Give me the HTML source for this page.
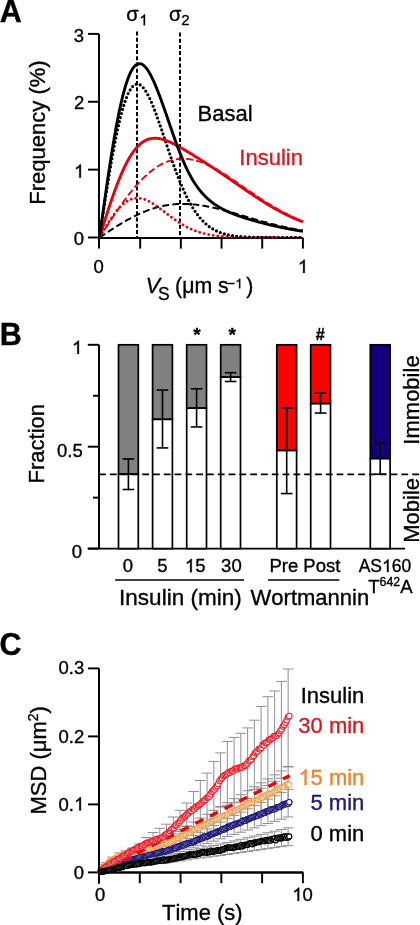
<!DOCTYPE html>
<html><head><meta charset="utf-8"><style>
html,body{margin:0;padding:0;background:#fff;}
svg{display:block;will-change:transform;}
text{font-family:"Liberation Sans",sans-serif;font-kerning:none;}
</style></head><body>
<svg width="420" height="925" viewBox="0 0 420 925" font-family="Liberation Sans, sans-serif">
<text x="-0.36" y="22.30" font-size="30.5" fill="#000" stroke="#000" stroke-width="0.35" text-anchor="start" font-weight="bold" >A</text>
<line x1="99.00" y1="33.90" x2="99.00" y2="248.60" stroke="#000" stroke-width="1.95" />
<line x1="99.00" y1="238.00" x2="303.20" y2="238.00" stroke="#000" stroke-width="1.95" />
<line x1="88.00" y1="237.50" x2="99.00" y2="237.50" stroke="#000" stroke-width="1.95" />
<line x1="88.00" y1="169.63" x2="99.00" y2="169.63" stroke="#000" stroke-width="1.95" />
<line x1="88.00" y1="101.77" x2="99.00" y2="101.77" stroke="#000" stroke-width="1.95" />
<line x1="88.00" y1="33.90" x2="99.00" y2="33.90" stroke="#000" stroke-width="1.95" />
<line x1="140.18" y1="238.00" x2="140.18" y2="248.60" stroke="#000" stroke-width="1.95" />
<line x1="180.86" y1="238.00" x2="180.86" y2="248.60" stroke="#000" stroke-width="1.95" />
<line x1="221.54" y1="238.00" x2="221.54" y2="248.60" stroke="#000" stroke-width="1.95" />
<line x1="262.22" y1="238.00" x2="262.22" y2="248.60" stroke="#000" stroke-width="1.95" />
<line x1="302.90" y1="238.00" x2="302.90" y2="248.60" stroke="#000" stroke-width="1.95" />
<text x="73.73" y="245.10" font-size="18.5" fill="#000" stroke="#000" stroke-width="0.35" text-anchor="start" >0</text>
<text x="73.94" y="109.37" font-size="18.5" fill="#000" stroke="#000" stroke-width="0.35" text-anchor="start" >2</text>
<text x="73.82" y="41.50" font-size="18.5" fill="#000" stroke="#000" stroke-width="0.35" text-anchor="start" >3</text>
<path d="M763 0L583 0L583 1145C540 1104 483 1063 413 1022C343 981 280 950 225 930L225 1104C323 1150 409 1206 483 1272C557 1338 609 1402 640 1466L763 1466Z" transform="translate(74.01,177.63) scale(0.00903,-0.00903)" fill="#000" stroke="#000" stroke-width="38.7"/>
<text x="74.01" y="177.63" font-size="18.5" fill="#000" stroke="#000" stroke-width="0.35" text-anchor="start" > </text>
<text x="93.48" y="272.90" font-size="18.5" fill="#000" stroke="#000" stroke-width="0.35" text-anchor="start" >0</text>
<path d="M763 0L583 0L583 1145C540 1104 483 1063 413 1022C343 981 280 950 225 930L225 1104C323 1150 409 1206 483 1272C557 1338 609 1402 640 1466L763 1466Z" transform="translate(297.87,272.90) scale(0.00903,-0.00903)" fill="#000" stroke="#000" stroke-width="38.7"/>
<text x="297.87" y="272.90" font-size="18.5" fill="#000" stroke="#000" stroke-width="0.35" text-anchor="start" > </text>
<line x1="137.00" y1="31.50" x2="137.00" y2="238.00" stroke="#000" stroke-width="2.0" stroke-dasharray="4 2.2"/>
<line x1="180.00" y1="32.50" x2="180.00" y2="238.00" stroke="#000" stroke-width="2.0" stroke-dasharray="4 2.2"/>
<text x="126.2" y="21" font-size="20" stroke="#000" stroke-width="0.35" font-family="Liberation Sans, sans-serif">σ</text>
<path d="M763 0L583 0L583 1145C540 1104 483 1063 413 1022C343 981 280 950 225 930L225 1104C323 1150 409 1206 483 1272C557 1338 609 1402 640 1466L763 1466Z" transform="translate(139.34,25.30) scale(0.00742,-0.00742)" fill="#000" stroke="#000" stroke-width="47.2"/>
<text x="168.9" y="21" font-size="20" stroke="#000" stroke-width="0.35" font-family="Liberation Sans, sans-serif">σ<tspan font-size="15" dy="4.3">2</tspan></text>
<polyline points="99.50,237.50 100.35,236.94 101.19,236.37 102.04,235.81 102.89,235.25 103.74,234.69 104.58,234.13 105.43,233.57 106.28,233.01 107.13,232.46 107.97,231.90 108.82,231.35 109.67,230.80 110.52,230.25 111.36,229.70 112.21,229.15 113.06,228.61 113.91,228.07 114.75,227.54 115.60,227.00 116.45,226.47 117.30,225.95 118.14,225.42 118.99,224.90 119.84,224.39 120.69,223.87 121.53,223.37 122.38,222.86 123.23,222.36 124.08,221.87 124.92,221.38 125.77,220.90 126.62,220.42 127.47,219.94 128.31,219.47 129.16,219.01 130.01,218.55 130.86,218.10 131.70,217.65 132.55,217.21 133.40,216.77 134.25,216.34 135.09,215.92 135.94,215.50 136.79,215.09 137.64,214.69 138.49,214.29 139.33,213.90 140.18,213.51 141.03,213.14 141.88,212.76 142.72,212.40 143.57,212.04 144.42,211.70 145.26,211.35 146.11,211.02 146.96,210.69 147.81,210.37 148.66,210.06 149.50,209.75 150.35,209.46 151.20,209.17 152.05,208.88 152.89,208.61 153.74,208.34 154.59,208.08 155.44,207.83 156.28,207.59 157.13,207.35 157.98,207.13 158.82,206.91 159.67,206.70 160.52,206.49 161.37,206.29 162.22,206.11 163.06,205.93 163.91,205.75 164.76,205.59 165.60,205.43 166.45,205.28 167.30,205.14 168.15,205.01 169.00,204.88 169.84,204.77 170.69,204.66 171.54,204.55 172.38,204.46 173.23,204.37 174.08,204.29 174.93,204.22 175.77,204.16 176.62,204.10 177.47,204.05 178.32,204.01 179.16,203.97 180.01,203.95 180.86,203.93 181.71,203.91 182.56,203.91 183.40,203.91 184.25,203.91 185.10,203.93 185.94,203.95 186.79,203.98 187.64,204.01 188.49,204.05 189.33,204.10 190.18,204.15 191.03,204.21 191.88,204.28 192.72,204.35 193.57,204.43 194.42,204.52 195.27,204.61 196.11,204.70 196.96,204.80 197.81,204.91 198.66,205.02 199.50,205.14 200.35,205.26 201.20,205.39 202.05,205.52 202.89,205.66 203.74,205.80 204.59,205.95 205.44,206.10 206.28,206.26 207.13,206.42 207.98,206.58 208.83,206.75 209.67,206.93 210.52,207.10 211.37,207.28 212.22,207.47 213.06,207.66 213.91,207.85 214.76,208.05 215.61,208.24 216.45,208.45 217.30,208.65 218.15,208.86 219.00,209.07 219.84,209.28 220.69,209.50 221.54,209.72 222.39,209.94 223.23,210.16 224.08,210.39 224.93,210.62 225.78,210.85 226.62,211.08 227.47,211.32 228.32,211.55 229.17,211.79 230.01,212.03 230.86,212.27 231.71,212.51 232.56,212.75 233.40,213.00 234.25,213.24 235.10,213.49 235.95,213.74 236.79,213.98 237.64,214.23 238.49,214.48 239.34,214.73 240.18,214.98 241.03,215.23 241.88,215.48 242.73,215.73 243.57,215.99 244.42,216.24 245.27,216.49 246.12,216.74 246.96,216.99 247.81,217.24 248.66,217.49 249.51,217.74 250.35,217.99 251.20,218.24 252.05,218.49 252.90,218.73 253.74,218.98 254.59,219.23 255.44,219.47 256.29,219.72 257.13,219.96 257.98,220.20 258.83,220.44 259.68,220.68 260.52,220.92 261.37,221.16 262.22,221.39 263.07,221.63 263.91,221.86 264.76,222.09 265.61,222.33 266.46,222.55 267.30,222.78 268.15,223.01 269.00,223.23 269.85,223.45 270.69,223.67 271.54,223.89 272.39,224.11 273.24,224.33 274.08,224.54 274.93,224.75 275.78,224.96 276.63,225.17 277.47,225.38 278.32,225.58 279.17,225.78 280.02,225.98 280.87,226.18 281.71,226.38 282.56,226.57 283.41,226.76 284.25,226.95 285.10,227.14 285.95,227.33 286.80,227.51 287.64,227.69 288.49,227.87 289.34,228.05 290.19,228.23 291.03,228.40 291.88,228.57 292.73,228.74 293.58,228.91 294.42,229.07 295.27,229.23 296.12,229.39 296.97,229.55 297.81,229.71 298.66,229.86 299.51,230.01 300.36,230.16 301.20,230.31 302.05,230.46 302.90,230.60" fill="none" stroke="#000" stroke-width="2.0" stroke-linejoin="round" stroke-dasharray="6.8 3.3"/>
<polyline points="99.50,237.50 100.35,236.18 101.19,234.86 102.04,233.54 102.89,232.23 103.74,230.91 104.58,229.60 105.43,228.29 106.28,226.98 107.13,225.68 107.97,224.38 108.82,223.08 109.67,221.79 110.52,220.50 111.36,219.22 112.21,217.94 113.06,216.67 113.91,215.41 114.75,214.15 115.60,212.90 116.45,211.66 117.30,210.42 118.14,209.20 118.99,207.98 119.84,206.77 120.69,205.57 121.53,204.38 122.38,203.20 123.23,202.03 124.08,200.87 124.92,199.73 125.77,198.59 126.62,197.46 127.47,196.35 128.31,195.25 129.16,194.16 130.01,193.09 130.86,192.03 131.70,190.98 132.55,189.94 133.40,188.92 134.25,187.91 135.09,186.92 135.94,185.95 136.79,184.98 137.64,184.04 138.49,183.10 139.33,182.19 140.18,181.29 141.03,180.40 141.88,179.53 142.72,178.68 143.57,177.85 144.42,177.03 145.26,176.23 146.11,175.44 146.96,174.68 147.81,173.93 148.66,173.19 149.50,172.48 150.35,171.78 151.20,171.10 152.05,170.44 152.89,169.80 153.74,169.17 154.59,168.57 155.44,167.98 156.28,167.41 157.13,166.86 157.98,166.32 158.82,165.81 159.67,165.31 160.52,164.83 161.37,164.37 162.22,163.93 163.06,163.51 163.91,163.10 164.76,162.72 165.60,162.35 166.45,162.00 167.30,161.67 168.15,161.36 169.00,161.07 169.84,160.79 170.69,160.53 171.54,160.29 172.38,160.07 173.23,159.87 174.08,159.68 174.93,159.51 175.77,159.36 176.62,159.23 177.47,159.11 178.32,159.02 179.16,158.93 180.01,158.87 180.86,158.82 181.71,158.79 182.56,158.78 183.40,158.78 184.25,158.80 185.10,158.83 185.94,158.88 186.79,158.94 187.64,159.02 188.49,159.12 189.33,159.23 190.18,159.36 191.03,159.50 191.88,159.65 192.72,159.82 193.57,160.01 194.42,160.20 195.27,160.41 196.11,160.64 196.96,160.87 197.81,161.12 198.66,161.39 199.50,161.66 200.35,161.95 201.20,162.25 202.05,162.56 202.89,162.88 203.74,163.22 204.59,163.56 205.44,163.92 206.28,164.29 207.13,164.66 207.98,165.05 208.83,165.45 209.67,165.85 210.52,166.27 211.37,166.69 212.22,167.13 213.06,167.57 213.91,168.02 214.76,168.48 215.61,168.94 216.45,169.41 217.30,169.90 218.15,170.38 219.00,170.88 219.84,171.38 220.69,171.89 221.54,172.40 222.39,172.92 223.23,173.44 224.08,173.97 224.93,174.51 225.78,175.05 226.62,175.59 227.47,176.14 228.32,176.69 229.17,177.25 230.01,177.81 230.86,178.37 231.71,178.94 232.56,179.51 233.40,180.08 234.25,180.65 235.10,181.23 235.95,181.81 236.79,182.39 237.64,182.97 238.49,183.56 239.34,184.14 240.18,184.73 241.03,185.32 241.88,185.91 242.73,186.49 243.57,187.08 244.42,187.67 245.27,188.26 246.12,188.85 246.96,189.44 247.81,190.02 248.66,190.61 249.51,191.19 250.35,191.78 251.20,192.36 252.05,192.94 252.90,193.52 253.74,194.10 254.59,194.68 255.44,195.25 256.29,195.82 257.13,196.39 257.98,196.96 258.83,197.53 259.68,198.09 260.52,198.65 261.37,199.20 262.22,199.76 263.07,200.31 263.91,200.85 264.76,201.40 265.61,201.94 266.46,202.48 267.30,203.01 268.15,203.54 269.00,204.06 269.85,204.58 270.69,205.10 271.54,205.62 272.39,206.12 273.24,206.63 274.08,207.13 274.93,207.63 275.78,208.12 276.63,208.61 277.47,209.09 278.32,209.57 279.17,210.04 280.02,210.51 280.87,210.98 281.71,211.44 282.56,211.89 283.41,212.34 284.25,212.79 285.10,213.23 285.95,213.66 286.80,214.09 287.64,214.52 288.49,214.94 289.34,215.36 290.19,215.77 291.03,216.17 291.88,216.57 292.73,216.97 293.58,217.36 294.42,217.75 295.27,218.13 296.12,218.50 296.97,218.87 297.81,219.24 298.66,219.60 299.51,219.96 300.36,220.31 301.20,220.65 302.05,220.99 302.90,221.33" fill="none" stroke="#e60010" stroke-width="1.85" stroke-linejoin="round" stroke-dasharray="7 3.2"/>
<polyline points="99.50,237.50 100.35,236.05 101.19,234.59 102.04,233.14 102.89,231.70 103.74,230.27 104.58,228.85 105.43,227.44 106.28,226.05 107.13,224.67 107.97,223.31 108.82,221.97 109.67,220.66 110.52,219.37 111.36,218.11 112.21,216.87 113.06,215.67 113.91,214.50 114.75,213.36 115.60,212.25 116.45,211.18 117.30,210.15 118.14,209.16 118.99,208.20 119.84,207.29 120.69,206.41 121.53,205.58 122.38,204.79 123.23,204.05 124.08,203.34 124.92,202.69 125.77,202.07 126.62,201.50 127.47,200.98 128.31,200.50 129.16,200.07 130.01,199.68 130.86,199.34 131.70,199.04 132.55,198.78 133.40,198.57 134.25,198.40 135.09,198.27 135.94,198.19 136.79,198.14 137.64,198.14 138.49,198.18 139.33,198.25 140.18,198.36 141.03,198.51 141.88,198.69 142.72,198.90 143.57,199.15 144.42,199.43 145.26,199.75 146.11,200.09 146.96,200.45 147.81,200.85 148.66,201.27 149.50,201.71 150.35,202.18 151.20,202.66 152.05,203.17 152.89,203.70 153.74,204.24 154.59,204.80 155.44,205.37 156.28,205.95 157.13,206.55 157.98,207.16 158.82,207.78 159.67,208.40 160.52,209.03 161.37,209.67 162.22,210.31 163.06,210.96 163.91,211.61 164.76,212.25 165.60,212.90 166.45,213.55 167.30,214.20 168.15,214.84 169.00,215.48 169.84,216.12 170.69,216.75 171.54,217.38 172.38,218.00 173.23,218.61 174.08,219.22 174.93,219.81 175.77,220.40 176.62,220.98 177.47,221.55 178.32,222.11 179.16,222.66 180.01,223.20 180.86,223.72 181.71,224.24 182.56,224.74 183.40,225.23 184.25,225.72 185.10,226.18 185.94,226.64 186.79,227.08 187.64,227.52 188.49,227.94 189.33,228.34 190.18,228.74 191.03,229.12 191.88,229.49 192.72,229.85 193.57,230.20 194.42,230.54 195.27,230.86 196.11,231.17 196.96,231.47 197.81,231.77 198.66,232.04 199.50,232.31 200.35,232.57 201.20,232.82 202.05,233.06 202.89,233.29 203.74,233.51 204.59,233.72 205.44,233.92 206.28,234.11 207.13,234.29 207.98,234.47 208.83,234.64 209.67,234.80 210.52,234.95 211.37,235.09 212.22,235.23 213.06,235.36 213.91,235.49 214.76,235.61 215.61,235.72 216.45,235.83 217.30,235.93 218.15,236.02 219.00,236.11 219.84,236.20 220.69,236.28 221.54,236.36 222.39,236.43 223.23,236.50 224.08,236.56 224.93,236.62 225.78,236.68 226.62,236.74 227.47,236.79 228.32,236.84 229.17,236.88 230.01,236.92 230.86,236.96 231.71,237.00 232.56,237.03 233.40,237.07 234.25,237.10 235.10,237.13 235.95,237.15 236.79,237.18 237.64,237.20 238.49,237.22 239.34,237.24 240.18,237.26 241.03,237.28 241.88,237.30 242.73,237.31 243.57,237.33 244.42,237.34 245.27,237.35 246.12,237.36 246.96,237.37 247.81,237.38 248.66,237.39 249.51,237.40 250.35,237.41 251.20,237.42 252.05,237.42 252.90,237.43 253.74,237.44 254.59,237.44 255.44,237.45 256.29,237.45 257.13,237.45 257.98,237.46 258.83,237.46 259.68,237.47 260.52,237.47 261.37,237.47 262.22,237.47 263.07,237.48 263.91,237.48 264.76,237.48 265.61,237.48 266.46,237.48 267.30,237.48 268.15,237.49 269.00,237.49 269.85,237.49 270.69,237.49 271.54,237.49 272.39,237.49 273.24,237.49 274.08,237.49 274.93,237.49 275.78,237.49 276.63,237.49 277.47,237.50 278.32,237.50 279.17,237.50 280.02,237.50 280.87,237.50 281.71,237.50 282.56,237.50 283.41,237.50 284.25,237.50 285.10,237.50 285.95,237.50 286.80,237.50 287.64,237.50 288.49,237.50 289.34,237.50 290.19,237.50 291.03,237.50 291.88,237.50 292.73,237.50 293.58,237.50 294.42,237.50 295.27,237.50 296.12,237.50 296.97,237.50 297.81,237.50 298.66,237.50 299.51,237.50 300.36,237.50 301.20,237.50 302.05,237.50 302.90,237.50" fill="none" stroke="#e60010" stroke-width="2.9" stroke-linejoin="round" stroke-dasharray="0 4.6" stroke-linecap="round"/>
<polyline points="99.50,237.50 100.35,231.83 101.19,226.17 102.04,220.53 102.89,214.91 103.74,209.33 104.58,203.79 105.43,198.30 106.28,192.87 107.13,187.50 107.97,182.21 108.82,177.00 109.67,171.88 110.52,166.86 111.36,161.94 112.21,157.13 113.06,152.44 113.91,147.87 114.75,143.43 115.60,139.12 116.45,134.95 117.30,130.93 118.14,127.05 118.99,123.33 119.84,119.77 120.69,116.36 121.53,113.12 122.38,110.05 123.23,107.14 124.08,104.41 124.92,101.84 125.77,99.45 126.62,97.24 127.47,95.20 128.31,93.34 129.16,91.65 130.01,90.13 130.86,88.79 131.70,87.63 132.55,86.63 133.40,85.81 134.25,85.15 135.09,84.65 135.94,84.32 136.79,84.15 137.64,84.13 138.49,84.27 139.33,84.56 140.18,84.99 141.03,85.56 141.88,86.27 142.72,87.11 143.57,88.08 144.42,89.17 145.26,90.39 146.11,91.71 146.96,93.14 147.81,94.68 148.66,96.32 149.50,98.04 150.35,99.86 151.20,101.76 152.05,103.73 152.89,105.78 153.74,107.89 154.59,110.07 155.44,112.30 156.28,114.58 157.13,116.91 157.98,119.27 158.82,121.68 159.67,124.11 160.52,126.58 161.37,129.06 162.22,131.56 163.06,134.08 163.91,136.60 164.76,139.13 165.60,141.66 166.45,144.19 167.30,146.71 168.15,149.22 169.00,151.72 169.84,154.20 170.69,156.66 171.54,159.10 172.38,161.51 173.23,163.90 174.08,166.26 174.93,168.58 175.77,170.88 176.62,173.13 177.47,175.35 178.32,177.53 179.16,179.67 180.01,181.76 180.86,183.82 181.71,185.83 182.56,187.79 183.40,189.71 184.25,191.58 185.10,193.41 185.94,195.18 186.79,196.92 187.64,198.60 188.49,200.24 189.33,201.82 190.18,203.36 191.03,204.86 191.88,206.30 192.72,207.70 193.57,209.06 194.42,210.37 195.27,211.63 196.11,212.85 196.96,214.02 197.81,215.15 198.66,216.24 199.50,217.29 200.35,218.30 201.20,219.27 202.05,220.19 202.89,221.09 203.74,221.94 204.59,222.76 205.44,223.54 206.28,224.29 207.13,225.00 207.98,225.69 208.83,226.34 209.67,226.96 210.52,227.56 211.37,228.12 212.22,228.66 213.06,229.17 213.91,229.66 214.76,230.12 215.61,230.56 216.45,230.97 217.30,231.37 218.15,231.74 219.00,232.10 219.84,232.43 220.69,232.75 221.54,233.05 222.39,233.33 223.23,233.60 224.08,233.85 224.93,234.09 225.78,234.31 226.62,234.52 227.47,234.72 228.32,234.91 229.17,235.08 230.01,235.25 230.86,235.40 231.71,235.55 232.56,235.69 233.40,235.81 234.25,235.93 235.10,236.04 235.95,236.15 236.79,236.25 237.64,236.34 238.49,236.42 239.34,236.50 240.18,236.58 241.03,236.64 241.88,236.71 242.73,236.77 243.57,236.82 244.42,236.88 245.27,236.92 246.12,236.97 246.96,237.01 247.81,237.05 248.66,237.09 249.51,237.12 250.35,237.15 251.20,237.18 252.05,237.20 252.90,237.23 253.74,237.25 254.59,237.27 255.44,237.29 256.29,237.31 257.13,237.32 257.98,237.34 258.83,237.35 259.68,237.36 260.52,237.38 261.37,237.39 262.22,237.40 263.07,237.41 263.91,237.41 264.76,237.42 265.61,237.43 266.46,237.44 267.30,237.44 268.15,237.45 269.00,237.45 269.85,237.46 270.69,237.46 271.54,237.46 272.39,237.47 273.24,237.47 274.08,237.47 274.93,237.48 275.78,237.48 276.63,237.48 277.47,237.48 278.32,237.48 279.17,237.49 280.02,237.49 280.87,237.49 281.71,237.49 282.56,237.49 283.41,237.49 284.25,237.49 285.10,237.49 285.95,237.49 286.80,237.49 287.64,237.49 288.49,237.50 289.34,237.50 290.19,237.50 291.03,237.50 291.88,237.50 292.73,237.50 293.58,237.50 294.42,237.50 295.27,237.50 296.12,237.50 296.97,237.50 297.81,237.50 298.66,237.50 299.51,237.50 300.36,237.50 301.20,237.50 302.05,237.50 302.90,237.50" fill="none" stroke="#000" stroke-width="3.2" stroke-linejoin="round" stroke-dasharray="0 4.2" stroke-linecap="round"/>
<polyline points="99.50,237.50 100.35,234.77 101.19,232.05 102.04,229.33 102.89,226.61 103.74,223.91 104.58,221.22 105.43,218.55 106.28,215.89 107.13,213.25 107.97,210.64 108.82,208.05 109.67,205.49 110.52,202.96 111.36,200.46 112.21,197.99 113.06,195.56 113.91,193.17 114.75,190.81 115.60,188.50 116.45,186.23 117.30,184.01 118.14,181.83 118.99,179.70 119.84,177.62 120.69,175.58 121.53,173.60 122.38,171.67 123.23,169.80 124.08,167.98 124.92,166.21 125.77,164.50 126.62,162.85 127.47,161.25 128.31,159.71 129.16,158.23 130.01,156.80 130.86,155.43 131.70,154.12 132.55,152.86 133.40,151.67 134.25,150.53 135.09,149.44 135.94,148.41 136.79,147.44 137.64,146.52 138.49,145.65 139.33,144.84 140.18,144.09 141.03,143.38 141.88,142.72 142.72,142.12 143.57,141.56 144.42,141.05 145.26,140.59 146.11,140.17 146.96,139.80 147.81,139.47 148.66,139.18 149.50,138.93 150.35,138.72 151.20,138.56 152.05,138.42 152.89,138.33 153.74,138.27 154.59,138.24 155.44,138.24 156.28,138.28 157.13,138.34 157.98,138.44 158.82,138.56 159.67,138.70 160.52,138.87 161.37,139.06 162.22,139.28 163.06,139.52 163.91,139.78 164.76,140.05 165.60,140.35 166.45,140.66 167.30,140.99 168.15,141.33 169.00,141.69 169.84,142.06 170.69,142.44 171.54,142.84 172.38,143.24 173.23,143.66 174.08,144.08 174.93,144.52 175.77,144.96 176.62,145.41 177.47,145.87 178.32,146.33 179.16,146.80 180.01,147.28 180.86,147.76 181.71,148.24 182.56,148.73 183.40,149.23 184.25,149.72 185.10,150.23 185.94,150.73 186.79,151.24 187.64,151.75 188.49,152.26 189.33,152.77 190.18,153.29 191.03,153.81 191.88,154.33 192.72,154.85 193.57,155.38 194.42,155.90 195.27,156.43 196.11,156.96 196.96,157.49 197.81,158.02 198.66,158.56 199.50,159.09 200.35,159.63 201.20,160.17 202.05,160.70 202.89,161.24 203.74,161.79 204.59,162.33 205.44,162.87 206.28,163.42 207.13,163.97 207.98,164.52 208.83,165.07 209.67,165.62 210.52,166.17 211.37,166.73 212.22,167.28 213.06,167.84 213.91,168.40 214.76,168.96 215.61,169.52 216.45,170.09 217.30,170.65 218.15,171.22 219.00,171.79 219.84,172.36 220.69,172.93 221.54,173.50 222.39,174.07 223.23,174.65 224.08,175.23 224.93,175.80 225.78,176.38 226.62,176.96 227.47,177.54 228.32,178.12 229.17,178.71 230.01,179.29 230.86,179.87 231.71,180.46 232.56,181.04 233.40,181.63 234.25,182.21 235.10,182.80 235.95,183.38 236.79,183.97 237.64,184.56 238.49,185.14 239.34,185.73 240.18,186.31 241.03,186.90 241.88,187.48 242.73,188.06 243.57,188.65 244.42,189.23 245.27,189.81 246.12,190.39 246.96,190.97 247.81,191.54 248.66,192.12 249.51,192.69 250.35,193.26 251.20,193.84 252.05,194.40 252.90,194.97 253.74,195.53 254.59,196.10 255.44,196.65 256.29,197.21 257.13,197.77 257.98,198.32 258.83,198.87 259.68,199.41 260.52,199.96 261.37,200.50 262.22,201.03 263.07,201.57 263.91,202.10 264.76,202.62 265.61,203.15 266.46,203.67 267.30,204.18 268.15,204.69 269.00,205.20 269.85,205.71 270.69,206.21 271.54,206.71 272.39,207.20 273.24,207.69 274.08,208.17 274.93,208.65 275.78,209.13 276.63,209.60 277.47,210.06 278.32,210.53 279.17,210.99 280.02,211.44 280.87,211.89 281.71,212.33 282.56,212.77 283.41,213.21 284.25,213.64 285.10,214.06 285.95,214.48 286.80,214.90 287.64,215.31 288.49,215.72 289.34,216.12 290.19,216.52 291.03,216.91 291.88,217.30 292.73,217.68 293.58,218.06 294.42,218.43 295.27,218.80 296.12,219.16 296.97,219.52 297.81,219.87 298.66,220.22 299.51,220.56 300.36,220.90 301.20,221.23 302.05,221.56 302.90,221.89" fill="none" stroke="#e60010" stroke-width="2.9" stroke-linejoin="round" />
<polyline points="99.50,237.50 100.35,231.36 101.19,225.23 102.04,219.12 102.89,213.04 103.74,206.98 104.58,200.97 105.43,195.01 106.28,189.11 107.13,183.28 107.97,177.52 108.82,171.85 109.67,166.26 110.52,160.77 111.36,155.39 112.21,150.12 113.06,144.96 113.91,139.93 114.75,135.02 115.60,130.26 116.45,125.63 117.30,121.15 118.14,116.82 118.99,112.64 119.84,108.62 120.69,104.76 121.53,101.07 122.38,97.55 123.23,94.19 124.08,91.01 124.92,88.01 125.77,85.18 126.62,82.52 127.47,80.05 128.31,77.75 129.16,75.63 130.01,73.69 130.86,71.92 131.70,70.34 132.55,68.92 133.40,67.68 134.25,66.61 135.09,65.71 135.94,64.98 136.79,64.41 137.64,64.00 138.49,63.74 139.33,63.65 140.18,63.70 141.03,63.90 141.88,64.24 142.72,64.72 143.57,65.33 144.42,66.07 145.26,66.94 146.11,67.92 146.96,69.03 147.81,70.24 148.66,71.56 149.50,72.98 150.35,74.49 151.20,76.10 152.05,77.79 152.89,79.56 153.74,81.41 154.59,83.33 155.44,85.31 156.28,87.36 157.13,89.46 157.98,91.62 158.82,93.82 159.67,96.07 160.52,98.35 161.37,100.67 162.22,103.02 163.06,105.40 163.91,107.80 164.76,110.22 165.60,112.65 166.45,115.10 167.30,117.55 168.15,120.01 169.00,122.48 169.84,124.93 170.69,127.39 171.54,129.84 172.38,132.27 173.23,134.69 174.08,137.09 174.93,139.47 175.77,141.82 176.62,144.15 177.47,146.45 178.32,148.71 179.16,150.93 180.01,153.12 180.86,155.26 181.71,157.36 182.56,159.41 183.40,161.41 184.25,163.36 185.10,165.26 185.94,167.10 186.79,168.90 187.64,170.64 188.49,172.33 189.33,173.96 190.18,175.55 191.03,177.08 191.88,178.57 192.72,180.00 193.57,181.39 194.42,182.73 195.27,184.03 196.11,185.28 196.96,186.49 197.81,187.66 198.66,188.79 199.50,189.88 200.35,190.94 201.20,191.96 202.05,192.94 202.89,193.89 203.74,194.81 204.59,195.70 205.44,196.56 206.28,197.39 207.13,198.19 207.98,198.97 208.83,199.71 209.67,200.44 210.52,201.14 211.37,201.82 212.22,202.48 213.06,203.11 213.91,203.73 214.76,204.32 215.61,204.90 216.45,205.46 217.30,206.00 218.15,206.53 219.00,207.04 219.84,207.53 220.69,208.01 221.54,208.48 222.39,208.94 223.23,209.38 224.08,209.81 224.93,210.23 225.78,210.64 226.62,211.04 227.47,211.43 228.32,211.81 229.17,212.18 230.01,212.55 230.86,212.90 231.71,213.25 232.56,213.59 233.40,213.93 234.25,214.26 235.10,214.58 235.95,214.89 236.79,215.21 237.64,215.51 238.49,215.81 239.34,216.11 240.18,216.40 241.03,216.69 241.88,216.97 242.73,217.25 243.57,217.53 244.42,217.80 245.27,218.07 246.12,218.34 246.96,218.60 247.81,218.86 248.66,219.12 249.51,219.37 250.35,219.62 251.20,219.87 252.05,220.12 252.90,220.37 253.74,220.61 254.59,220.85 255.44,221.09 256.29,221.32 257.13,221.55 257.98,221.79 258.83,222.01 259.68,222.24 260.52,222.47 261.37,222.69 262.22,222.91 263.07,223.13 263.91,223.35 264.76,223.56 265.61,223.78 266.46,223.99 267.30,224.20 268.15,224.41 269.00,224.61 269.85,224.82 270.69,225.02 271.54,225.22 272.39,225.42 273.24,225.62 274.08,225.81 274.93,226.01 275.78,226.20 276.63,226.39 277.47,226.57 278.32,226.76 279.17,226.94 280.02,227.12 280.87,227.30 281.71,227.48 282.56,227.66 283.41,227.83 284.25,228.00 285.10,228.17 285.95,228.34 286.80,228.51 287.64,228.67 288.49,228.83 289.34,228.99 290.19,229.15 291.03,229.31 291.88,229.46 292.73,229.61 293.58,229.76 294.42,229.91 295.27,230.06 296.12,230.20 296.97,230.35 297.81,230.49 298.66,230.62 299.51,230.76 300.36,230.90 301.20,231.03 302.05,231.16 302.90,231.29" fill="none" stroke="#000" stroke-width="2.9" stroke-linejoin="round" />
<text x="197.50" y="120.70" font-size="22" fill="#000" stroke="#000" stroke-width="0.35" text-anchor="start" >Basal</text>
<text x="239.37" y="165.00" font-size="22" fill="#d71920" stroke="#d71920" stroke-width="0.35" text-anchor="start" >Insulin</text>
<text transform="translate(44.5,132.5) rotate(-90)" font-size="22" stroke="#000" stroke-width="0.35" text-anchor="middle" font-family="Liberation Sans, sans-serif">Frequency (%)</text>
<text x="145.8" y="293.3" font-size="21.5" font-style="italic" stroke="#000" stroke-width="0.35" font-family="Liberation Sans, sans-serif">V</text>
<text x="158.01" y="300.20" font-size="17.5" fill="#000" stroke="#000" stroke-width="0.35" text-anchor="start" >S</text>
<text x="175.08" y="293.30" font-size="21.3" fill="#000" stroke="#000" stroke-width="0.35" text-anchor="start" >(μm s</text>
<path d="M763 0L583 0L583 1145C540 1104 483 1063 413 1022C343 981 280 950 225 930L225 1104C323 1150 409 1206 483 1272C557 1338 609 1402 640 1466L763 1466Z" transform="translate(235.22,288.30) scale(0.00659,-0.00659)" fill="#000" stroke="#000" stroke-width="53.1"/>
<text x="227.33" y="288.30" font-size="13.5" fill="#000" stroke="#000" stroke-width="0.35" text-anchor="start" >− </text>
<text x="246.18" y="293.30" font-size="21.3" fill="#000" stroke="#000" stroke-width="0.35" text-anchor="start" >)</text>
<text x="-0.24" y="344.60" font-size="30.5" fill="#000" stroke="#000" stroke-width="0.35" text-anchor="start" font-weight="bold" >B</text>
<line x1="99.00" y1="344.80" x2="99.00" y2="549.00" stroke="#000" stroke-width="1.95" />
<line x1="87.80" y1="548.60" x2="99.00" y2="548.60" stroke="#000" stroke-width="1.95" />
<line x1="87.80" y1="446.70" x2="99.00" y2="446.70" stroke="#000" stroke-width="1.95" />
<line x1="87.80" y1="344.80" x2="99.00" y2="344.80" stroke="#000" stroke-width="1.95" />
<line x1="93.00" y1="497.65" x2="99.00" y2="497.65" stroke="#000" stroke-width="1.95" />
<line x1="93.00" y1="395.75" x2="99.00" y2="395.75" stroke="#000" stroke-width="1.95" />
<line x1="87.80" y1="548.60" x2="405.00" y2="548.60" stroke="#000" stroke-width="1.95" />
<path d="M763 0L583 0L583 1145C540 1104 483 1063 413 1022C343 981 280 950 225 930L225 1104C323 1150 409 1206 483 1272C557 1338 609 1402 640 1466L763 1466Z" transform="translate(72.01,353.90) scale(0.00903,-0.00903)" fill="#000" stroke="#000" stroke-width="38.7"/>
<text x="72.01" y="353.90" font-size="18.5" fill="#000" stroke="#000" stroke-width="0.35" text-anchor="start" > </text>
<text x="56.96" y="456.70" font-size="18.5" fill="#000" stroke="#000" stroke-width="0.35" text-anchor="start" >0.5</text>
<text x="71.83" y="558.10" font-size="18.5" fill="#000" stroke="#000" stroke-width="0.35" text-anchor="start" >0</text>
<rect x="118.50" y="344.80" width="19.8" height="129.41" fill="#808080" stroke="#000" stroke-width="1.7"/>
<rect x="118.50" y="474.21" width="19.8" height="74.39" fill="#fff" stroke="#000" stroke-width="1.7"/>
<line x1="128.40" y1="489.50" x2="128.40" y2="458.93" stroke="#000" stroke-width="1.6" />
<line x1="122.60" y1="489.50" x2="134.20" y2="489.50" stroke="#000" stroke-width="1.6" />
<line x1="122.60" y1="458.93" x2="134.20" y2="458.93" stroke="#000" stroke-width="1.6" />
<rect x="152.60" y="344.80" width="19.8" height="74.59" fill="#808080" stroke="#000" stroke-width="1.7"/>
<rect x="152.60" y="419.39" width="19.8" height="129.21" fill="#fff" stroke="#000" stroke-width="1.7"/>
<line x1="162.50" y1="447.92" x2="162.50" y2="390.04" stroke="#000" stroke-width="1.6" />
<line x1="156.70" y1="447.92" x2="168.30" y2="447.92" stroke="#000" stroke-width="1.6" />
<line x1="156.70" y1="390.04" x2="168.30" y2="390.04" stroke="#000" stroke-width="1.6" />
<rect x="186.70" y="344.80" width="19.8" height="63.38" fill="#808080" stroke="#000" stroke-width="1.7"/>
<rect x="186.70" y="408.18" width="19.8" height="140.42" fill="#fff" stroke="#000" stroke-width="1.7"/>
<line x1="196.60" y1="426.93" x2="196.60" y2="388.82" stroke="#000" stroke-width="1.6" />
<line x1="190.80" y1="426.93" x2="202.40" y2="426.93" stroke="#000" stroke-width="1.6" />
<line x1="190.80" y1="388.82" x2="202.40" y2="388.82" stroke="#000" stroke-width="1.6" />
<rect x="220.70" y="344.80" width="19.8" height="32.40" fill="#808080" stroke="#000" stroke-width="1.7"/>
<rect x="220.70" y="377.20" width="19.8" height="171.40" fill="#fff" stroke="#000" stroke-width="1.7"/>
<line x1="230.60" y1="381.48" x2="230.60" y2="372.72" stroke="#000" stroke-width="1.6" />
<line x1="224.80" y1="381.48" x2="236.40" y2="381.48" stroke="#000" stroke-width="1.6" />
<line x1="224.80" y1="372.72" x2="236.40" y2="372.72" stroke="#000" stroke-width="1.6" />
<rect x="276.80" y="344.80" width="19.8" height="105.77" fill="#ff0000" stroke="#000" stroke-width="1.7"/>
<rect x="276.80" y="450.57" width="19.8" height="98.03" fill="#fff" stroke="#000" stroke-width="1.7"/>
<line x1="286.70" y1="493.57" x2="286.70" y2="407.98" stroke="#000" stroke-width="1.6" />
<line x1="280.90" y1="493.57" x2="292.50" y2="493.57" stroke="#000" stroke-width="1.6" />
<line x1="280.90" y1="407.98" x2="292.50" y2="407.98" stroke="#000" stroke-width="1.6" />
<rect x="310.70" y="344.80" width="19.8" height="58.90" fill="#ff0000" stroke="#000" stroke-width="1.7"/>
<rect x="310.70" y="403.70" width="19.8" height="144.90" fill="#fff" stroke="#000" stroke-width="1.7"/>
<line x1="320.60" y1="413.07" x2="320.60" y2="393.10" stroke="#000" stroke-width="1.6" />
<line x1="314.80" y1="413.07" x2="326.40" y2="413.07" stroke="#000" stroke-width="1.6" />
<line x1="314.80" y1="393.10" x2="326.40" y2="393.10" stroke="#000" stroke-width="1.6" />
<rect x="370.30" y="344.80" width="19.8" height="113.92" fill="#13007a" stroke="#000" stroke-width="1.7"/>
<rect x="370.30" y="458.72" width="19.8" height="89.88" fill="#fff" stroke="#000" stroke-width="1.7"/>
<line x1="380.20" y1="474.21" x2="380.20" y2="442.62" stroke="#000" stroke-width="1.6" />
<line x1="374.40" y1="474.21" x2="386.00" y2="474.21" stroke="#000" stroke-width="1.6" />
<line x1="374.40" y1="442.62" x2="386.00" y2="442.62" stroke="#000" stroke-width="1.6" />
<line x1="99.00" y1="474.40" x2="420.00" y2="474.40" stroke="#000" stroke-width="1.6" stroke-dasharray="6.8 4"/>
<text x="196.90" y="340.60" font-size="19" fill="#000" stroke="#000" stroke-width="0.35" text-anchor="middle" font-weight="bold" >*</text>
<text x="232.20" y="340.60" font-size="19" fill="#000" stroke="#000" stroke-width="0.35" text-anchor="middle" font-weight="bold" >*</text>
<text x="320.20" y="339.60" font-size="16.2" fill="#000" stroke="#000" stroke-width="0.35" text-anchor="middle" font-weight="bold" >#</text>
<text x="122.86" y="572.20" font-size="18.5" fill="#000" stroke="#000" stroke-width="0.35" text-anchor="start" >0</text>
<text x="157.17" y="572.20" font-size="18.5" fill="#000" stroke="#000" stroke-width="0.35" text-anchor="start" >5</text>
<path d="M763 0L583 0L583 1145C540 1104 483 1063 413 1022C343 981 280 950 225 930L225 1104C323 1150 409 1206 483 1272C557 1338 609 1402 640 1466L763 1466Z" transform="translate(184.88,572.20) scale(0.00903,-0.00903)" fill="#000" stroke="#000" stroke-width="38.7"/>
<text x="184.88" y="572.20" font-size="18.5" fill="#000" stroke="#000" stroke-width="0.35" text-anchor="start" > 5</text>
<text x="221.12" y="572.20" font-size="18.5" fill="#000" stroke="#000" stroke-width="0.35" text-anchor="start" >30</text>
<line x1="115.20" y1="580.00" x2="244.00" y2="580.00" stroke="#000" stroke-width="1.7" />
<text x="119.12" y="605.00" font-size="22.5" fill="#000" stroke="#000" stroke-width="0.35" text-anchor="start" >Insulin (min)</text>
<text x="269.38" y="572.30" font-size="18.5" fill="#000" stroke="#000" stroke-width="0.35" text-anchor="start" >Pre Post</text>
<line x1="267.90" y1="580.00" x2="339.40" y2="580.00" stroke="#000" stroke-width="1.7" />
<text x="250.60" y="604.90" font-size="22" fill="#000" stroke="#000" stroke-width="0.35" text-anchor="start" >Wortmannin</text>
<path d="M763 0L583 0L583 1145C540 1104 483 1063 413 1022C343 981 280 950 225 930L225 1104C323 1150 409 1206 483 1272C557 1338 609 1402 640 1466L763 1466Z" transform="translate(382.01,572.00) scale(0.00854,-0.00854)" fill="#000" stroke="#000" stroke-width="41.0"/>
<text x="358.67" y="572.00" font-size="17.5" fill="#000" stroke="#000" stroke-width="0.35" text-anchor="start" >AS 60</text>
<text x="368.3" y="593.2" font-size="18.5" stroke="#000" stroke-width="0.35" font-family="Liberation Sans, sans-serif">T<tspan font-size="12.3" dy="-7.2">642</tspan><tspan dy="7.2">A</tspan></text>
<text transform="translate(419.3,400) rotate(-90)" font-size="22" stroke="#000" stroke-width="0.35" text-anchor="middle" font-family="Liberation Sans, sans-serif">Immobile</text>
<text transform="translate(419.3,510.3) rotate(-90)" font-size="22" stroke="#000" stroke-width="0.35" text-anchor="middle" font-family="Liberation Sans, sans-serif">Mobile</text>
<text transform="translate(44.3,443.7) rotate(-90)" font-size="22" stroke="#000" stroke-width="0.35" text-anchor="middle" font-family="Liberation Sans, sans-serif">Fraction</text>
<text x="-0.55" y="655.00" font-size="30.5" fill="#000" stroke="#000" stroke-width="0.35" text-anchor="start" font-weight="bold" >C</text>
<line x1="99.00" y1="668.50" x2="99.00" y2="883.60" stroke="#000" stroke-width="1.95" />
<line x1="88.00" y1="872.40" x2="99.00" y2="872.40" stroke="#000" stroke-width="1.95" />
<line x1="88.00" y1="804.40" x2="99.00" y2="804.40" stroke="#000" stroke-width="1.95" />
<line x1="88.00" y1="736.40" x2="99.00" y2="736.40" stroke="#000" stroke-width="1.95" />
<line x1="88.00" y1="668.40" x2="99.00" y2="668.40" stroke="#000" stroke-width="1.95" />
<line x1="99.00" y1="872.40" x2="303.20" y2="872.40" stroke="#000" stroke-width="1.95" />
<line x1="139.78" y1="872.40" x2="139.78" y2="883.20" stroke="#000" stroke-width="1.95" />
<line x1="180.56" y1="872.40" x2="180.56" y2="883.20" stroke="#000" stroke-width="1.95" />
<line x1="221.34" y1="872.40" x2="221.34" y2="883.20" stroke="#000" stroke-width="1.95" />
<line x1="262.12" y1="872.40" x2="262.12" y2="883.20" stroke="#000" stroke-width="1.95" />
<line x1="302.90" y1="872.40" x2="302.90" y2="883.20" stroke="#000" stroke-width="1.95" />
<text x="58.50" y="674.40" font-size="18.5" fill="#000" stroke="#000" stroke-width="0.35" text-anchor="start" >0.3</text>
<text x="58.51" y="742.60" font-size="18.5" fill="#000" stroke="#000" stroke-width="0.35" text-anchor="start" >0.2</text>
<path d="M763 0L583 0L583 1145C540 1104 483 1063 413 1022C343 981 280 950 225 930L225 1104C323 1150 409 1206 483 1272C557 1338 609 1402 640 1466L763 1466Z" transform="translate(74.01,810.50) scale(0.00903,-0.00903)" fill="#000" stroke="#000" stroke-width="38.7"/>
<text x="58.58" y="810.50" font-size="18.5" fill="#000" stroke="#000" stroke-width="0.35" text-anchor="start" >0. </text>
<text x="73.63" y="878.60" font-size="18.5" fill="#000" stroke="#000" stroke-width="0.35" text-anchor="start" >0</text>
<text x="94.98" y="901.00" font-size="18.5" fill="#000" stroke="#000" stroke-width="0.35" text-anchor="start" >0</text>
<path d="M763 0L583 0L583 1145C540 1104 483 1063 413 1022C343 981 280 950 225 930L225 1104C323 1150 409 1206 483 1272C557 1338 609 1402 640 1466L763 1466Z" transform="translate(292.27,900.90) scale(0.00903,-0.00903)" fill="#000" stroke="#000" stroke-width="38.7"/>
<text x="292.27" y="900.90" font-size="18.5" fill="#000" stroke="#000" stroke-width="0.35" text-anchor="start" > 0</text>
<text x="162.01" y="919.60" font-size="22" fill="#000" stroke="#000" stroke-width="0.35" text-anchor="start" >Time (s)</text>
<text x="46.5" y="760.4" transform="rotate(-90 46.5 760.4)" font-size="22" stroke="#000" stroke-width="0.35" text-anchor="middle" font-family="Liberation Sans, sans-serif">MSD (μm<tspan font-size="14" dy="-8">2</tspan><tspan dy="8">)</tspan></text>
<text x="300.73" y="703.40" font-size="22" fill="#000" stroke="#000" stroke-width="0.35" text-anchor="start" >Insulin</text>
<text x="298.30" y="732.90" font-size="22" fill="#d71920" stroke="#d71920" stroke-width="0.35" text-anchor="start" >30 min</text>
<path d="M763 0L583 0L583 1145C540 1104 483 1063 413 1022C343 981 280 950 225 930L225 1104C323 1150 409 1206 483 1272C557 1338 609 1402 640 1466L763 1466Z" transform="translate(298.30,785.10) scale(0.01074,-0.01074)" fill="#f08228" stroke="#f08228" stroke-width="32.6"/>
<text x="298.30" y="785.10" font-size="22" fill="#f08228" stroke="#f08228" stroke-width="0.35" text-anchor="start" > 5 min</text>
<text x="310.53" y="810.00" font-size="22" fill="#1e1978" stroke="#1e1978" stroke-width="0.35" text-anchor="start" >5 min</text>
<text x="310.53" y="840.60" font-size="22" fill="#000" stroke="#000" stroke-width="0.35" text-anchor="start" >0 min</text>
<line x1="105.75" y1="873.32" x2="105.75" y2="868.32" stroke="#8f8f8f" stroke-width="1.0" />
<line x1="100.45" y1="868.32" x2="111.05" y2="868.32" stroke="#8f8f8f" stroke-width="1.0" />
<line x1="100.45" y1="873.32" x2="111.05" y2="873.32" stroke="#8f8f8f" stroke-width="1.0" />
<line x1="112.51" y1="871.71" x2="112.51" y2="866.71" stroke="#8f8f8f" stroke-width="1.0" />
<line x1="107.21" y1="866.71" x2="117.81" y2="866.71" stroke="#8f8f8f" stroke-width="1.0" />
<line x1="107.21" y1="871.71" x2="117.81" y2="871.71" stroke="#8f8f8f" stroke-width="1.0" />
<line x1="119.27" y1="870.05" x2="119.27" y2="865.05" stroke="#8f8f8f" stroke-width="1.0" />
<line x1="113.97" y1="865.05" x2="124.56" y2="865.05" stroke="#8f8f8f" stroke-width="1.0" />
<line x1="113.97" y1="870.05" x2="124.56" y2="870.05" stroke="#8f8f8f" stroke-width="1.0" />
<line x1="126.02" y1="868.39" x2="126.02" y2="863.39" stroke="#8f8f8f" stroke-width="1.0" />
<line x1="120.72" y1="863.39" x2="131.32" y2="863.39" stroke="#8f8f8f" stroke-width="1.0" />
<line x1="120.72" y1="868.39" x2="131.32" y2="868.39" stroke="#8f8f8f" stroke-width="1.0" />
<line x1="132.78" y1="867.04" x2="132.78" y2="862.04" stroke="#8f8f8f" stroke-width="1.0" />
<line x1="127.48" y1="862.04" x2="138.08" y2="862.04" stroke="#8f8f8f" stroke-width="1.0" />
<line x1="127.48" y1="867.04" x2="138.08" y2="867.04" stroke="#8f8f8f" stroke-width="1.0" />
<line x1="139.53" y1="866.12" x2="139.53" y2="861.12" stroke="#8f8f8f" stroke-width="1.0" />
<line x1="134.23" y1="861.12" x2="144.83" y2="861.12" stroke="#8f8f8f" stroke-width="1.0" />
<line x1="134.23" y1="866.12" x2="144.83" y2="866.12" stroke="#8f8f8f" stroke-width="1.0" />
<line x1="146.28" y1="865.20" x2="146.28" y2="860.20" stroke="#8f8f8f" stroke-width="1.0" />
<line x1="140.98" y1="860.20" x2="151.59" y2="860.20" stroke="#8f8f8f" stroke-width="1.0" />
<line x1="140.98" y1="865.20" x2="151.59" y2="865.20" stroke="#8f8f8f" stroke-width="1.0" />
<line x1="153.04" y1="864.40" x2="153.04" y2="859.06" stroke="#8f8f8f" stroke-width="1.0" />
<line x1="147.74" y1="859.06" x2="158.34" y2="859.06" stroke="#8f8f8f" stroke-width="1.0" />
<line x1="147.74" y1="864.40" x2="158.34" y2="864.40" stroke="#8f8f8f" stroke-width="1.0" />
<line x1="159.80" y1="863.64" x2="159.80" y2="857.80" stroke="#8f8f8f" stroke-width="1.0" />
<line x1="154.50" y1="857.80" x2="165.10" y2="857.80" stroke="#8f8f8f" stroke-width="1.0" />
<line x1="154.50" y1="863.64" x2="165.10" y2="863.64" stroke="#8f8f8f" stroke-width="1.0" />
<line x1="166.55" y1="862.89" x2="166.55" y2="856.54" stroke="#8f8f8f" stroke-width="1.0" />
<line x1="161.25" y1="856.54" x2="171.85" y2="856.54" stroke="#8f8f8f" stroke-width="1.0" />
<line x1="161.25" y1="862.89" x2="171.85" y2="862.89" stroke="#8f8f8f" stroke-width="1.0" />
<line x1="173.31" y1="861.93" x2="173.31" y2="854.95" stroke="#8f8f8f" stroke-width="1.0" />
<line x1="168.00" y1="854.95" x2="178.61" y2="854.95" stroke="#8f8f8f" stroke-width="1.0" />
<line x1="168.00" y1="861.93" x2="178.61" y2="861.93" stroke="#8f8f8f" stroke-width="1.0" />
<line x1="180.06" y1="860.91" x2="180.06" y2="853.26" stroke="#8f8f8f" stroke-width="1.0" />
<line x1="174.76" y1="853.26" x2="185.36" y2="853.26" stroke="#8f8f8f" stroke-width="1.0" />
<line x1="174.76" y1="860.91" x2="185.36" y2="860.91" stroke="#8f8f8f" stroke-width="1.0" />
<line x1="186.81" y1="859.90" x2="186.81" y2="851.56" stroke="#8f8f8f" stroke-width="1.0" />
<line x1="181.51" y1="851.56" x2="192.12" y2="851.56" stroke="#8f8f8f" stroke-width="1.0" />
<line x1="181.51" y1="859.90" x2="192.12" y2="859.90" stroke="#8f8f8f" stroke-width="1.0" />
<line x1="193.57" y1="858.88" x2="193.57" y2="849.87" stroke="#8f8f8f" stroke-width="1.0" />
<line x1="188.27" y1="849.87" x2="198.87" y2="849.87" stroke="#8f8f8f" stroke-width="1.0" />
<line x1="188.27" y1="858.88" x2="198.87" y2="858.88" stroke="#8f8f8f" stroke-width="1.0" />
<line x1="200.32" y1="857.98" x2="200.32" y2="848.36" stroke="#8f8f8f" stroke-width="1.0" />
<line x1="195.02" y1="848.36" x2="205.62" y2="848.36" stroke="#8f8f8f" stroke-width="1.0" />
<line x1="195.02" y1="857.98" x2="205.62" y2="857.98" stroke="#8f8f8f" stroke-width="1.0" />
<line x1="207.08" y1="857.11" x2="207.08" y2="846.92" stroke="#8f8f8f" stroke-width="1.0" />
<line x1="201.78" y1="846.92" x2="212.38" y2="846.92" stroke="#8f8f8f" stroke-width="1.0" />
<line x1="201.78" y1="857.11" x2="212.38" y2="857.11" stroke="#8f8f8f" stroke-width="1.0" />
<line x1="213.83" y1="856.24" x2="213.83" y2="845.47" stroke="#8f8f8f" stroke-width="1.0" />
<line x1="208.53" y1="845.47" x2="219.13" y2="845.47" stroke="#8f8f8f" stroke-width="1.0" />
<line x1="208.53" y1="856.24" x2="219.13" y2="856.24" stroke="#8f8f8f" stroke-width="1.0" />
<line x1="220.59" y1="855.38" x2="220.59" y2="844.03" stroke="#8f8f8f" stroke-width="1.0" />
<line x1="215.29" y1="844.03" x2="225.89" y2="844.03" stroke="#8f8f8f" stroke-width="1.0" />
<line x1="215.29" y1="855.38" x2="225.89" y2="855.38" stroke="#8f8f8f" stroke-width="1.0" />
<line x1="227.34" y1="854.51" x2="227.34" y2="842.58" stroke="#8f8f8f" stroke-width="1.0" />
<line x1="222.04" y1="842.58" x2="232.65" y2="842.58" stroke="#8f8f8f" stroke-width="1.0" />
<line x1="222.04" y1="854.51" x2="232.65" y2="854.51" stroke="#8f8f8f" stroke-width="1.0" />
<line x1="234.10" y1="853.53" x2="234.10" y2="840.94" stroke="#8f8f8f" stroke-width="1.0" />
<line x1="228.80" y1="840.94" x2="239.40" y2="840.94" stroke="#8f8f8f" stroke-width="1.0" />
<line x1="228.80" y1="853.53" x2="239.40" y2="853.53" stroke="#8f8f8f" stroke-width="1.0" />
<line x1="240.85" y1="852.55" x2="240.85" y2="839.31" stroke="#8f8f8f" stroke-width="1.0" />
<line x1="235.55" y1="839.31" x2="246.16" y2="839.31" stroke="#8f8f8f" stroke-width="1.0" />
<line x1="235.55" y1="852.55" x2="246.16" y2="852.55" stroke="#8f8f8f" stroke-width="1.0" />
<line x1="247.61" y1="851.57" x2="247.61" y2="837.68" stroke="#8f8f8f" stroke-width="1.0" />
<line x1="242.31" y1="837.68" x2="252.91" y2="837.68" stroke="#8f8f8f" stroke-width="1.0" />
<line x1="242.31" y1="851.57" x2="252.91" y2="851.57" stroke="#8f8f8f" stroke-width="1.0" />
<line x1="254.37" y1="850.59" x2="254.37" y2="836.04" stroke="#8f8f8f" stroke-width="1.0" />
<line x1="249.06" y1="836.04" x2="259.67" y2="836.04" stroke="#8f8f8f" stroke-width="1.0" />
<line x1="249.06" y1="850.59" x2="259.67" y2="850.59" stroke="#8f8f8f" stroke-width="1.0" />
<line x1="261.12" y1="849.60" x2="261.12" y2="834.41" stroke="#8f8f8f" stroke-width="1.0" />
<line x1="255.82" y1="834.41" x2="266.42" y2="834.41" stroke="#8f8f8f" stroke-width="1.0" />
<line x1="255.82" y1="849.60" x2="266.42" y2="849.60" stroke="#8f8f8f" stroke-width="1.0" />
<line x1="267.88" y1="848.62" x2="267.88" y2="832.77" stroke="#8f8f8f" stroke-width="1.0" />
<line x1="262.57" y1="832.77" x2="273.18" y2="832.77" stroke="#8f8f8f" stroke-width="1.0" />
<line x1="262.57" y1="848.62" x2="273.18" y2="848.62" stroke="#8f8f8f" stroke-width="1.0" />
<line x1="274.63" y1="847.64" x2="274.63" y2="831.14" stroke="#8f8f8f" stroke-width="1.0" />
<line x1="269.33" y1="831.14" x2="279.93" y2="831.14" stroke="#8f8f8f" stroke-width="1.0" />
<line x1="269.33" y1="847.64" x2="279.93" y2="847.64" stroke="#8f8f8f" stroke-width="1.0" />
<line x1="281.38" y1="846.66" x2="281.38" y2="829.50" stroke="#8f8f8f" stroke-width="1.0" />
<line x1="276.08" y1="829.50" x2="286.69" y2="829.50" stroke="#8f8f8f" stroke-width="1.0" />
<line x1="276.08" y1="846.66" x2="286.69" y2="846.66" stroke="#8f8f8f" stroke-width="1.0" />
<line x1="288.14" y1="845.68" x2="288.14" y2="827.87" stroke="#8f8f8f" stroke-width="1.0" />
<line x1="282.84" y1="827.87" x2="293.44" y2="827.87" stroke="#8f8f8f" stroke-width="1.0" />
<line x1="282.84" y1="845.68" x2="293.44" y2="845.68" stroke="#8f8f8f" stroke-width="1.0" />
<line x1="105.75" y1="871.75" x2="105.75" y2="866.75" stroke="#8f8f8f" stroke-width="1.0" />
<line x1="100.45" y1="866.75" x2="111.05" y2="866.75" stroke="#8f8f8f" stroke-width="1.0" />
<line x1="100.45" y1="871.75" x2="111.05" y2="871.75" stroke="#8f8f8f" stroke-width="1.0" />
<line x1="112.51" y1="868.79" x2="112.51" y2="863.79" stroke="#8f8f8f" stroke-width="1.0" />
<line x1="107.21" y1="863.79" x2="117.81" y2="863.79" stroke="#8f8f8f" stroke-width="1.0" />
<line x1="107.21" y1="868.79" x2="117.81" y2="868.79" stroke="#8f8f8f" stroke-width="1.0" />
<line x1="119.27" y1="866.02" x2="119.27" y2="861.02" stroke="#8f8f8f" stroke-width="1.0" />
<line x1="113.97" y1="861.02" x2="124.56" y2="861.02" stroke="#8f8f8f" stroke-width="1.0" />
<line x1="113.97" y1="866.02" x2="124.56" y2="866.02" stroke="#8f8f8f" stroke-width="1.0" />
<line x1="126.02" y1="863.26" x2="126.02" y2="858.26" stroke="#8f8f8f" stroke-width="1.0" />
<line x1="120.72" y1="858.26" x2="131.32" y2="858.26" stroke="#8f8f8f" stroke-width="1.0" />
<line x1="120.72" y1="863.26" x2="131.32" y2="863.26" stroke="#8f8f8f" stroke-width="1.0" />
<line x1="132.78" y1="861.27" x2="132.78" y2="855.71" stroke="#8f8f8f" stroke-width="1.0" />
<line x1="127.48" y1="855.71" x2="138.08" y2="855.71" stroke="#8f8f8f" stroke-width="1.0" />
<line x1="127.48" y1="861.27" x2="138.08" y2="861.27" stroke="#8f8f8f" stroke-width="1.0" />
<line x1="139.53" y1="860.01" x2="139.53" y2="853.82" stroke="#8f8f8f" stroke-width="1.0" />
<line x1="134.23" y1="853.82" x2="144.83" y2="853.82" stroke="#8f8f8f" stroke-width="1.0" />
<line x1="134.23" y1="860.01" x2="144.83" y2="860.01" stroke="#8f8f8f" stroke-width="1.0" />
<line x1="146.28" y1="858.75" x2="146.28" y2="851.93" stroke="#8f8f8f" stroke-width="1.0" />
<line x1="140.98" y1="851.93" x2="151.59" y2="851.93" stroke="#8f8f8f" stroke-width="1.0" />
<line x1="140.98" y1="858.75" x2="151.59" y2="858.75" stroke="#8f8f8f" stroke-width="1.0" />
<line x1="153.04" y1="857.51" x2="153.04" y2="850.07" stroke="#8f8f8f" stroke-width="1.0" />
<line x1="147.74" y1="850.07" x2="158.34" y2="850.07" stroke="#8f8f8f" stroke-width="1.0" />
<line x1="147.74" y1="857.51" x2="158.34" y2="857.51" stroke="#8f8f8f" stroke-width="1.0" />
<line x1="159.80" y1="856.29" x2="159.80" y2="848.23" stroke="#8f8f8f" stroke-width="1.0" />
<line x1="154.50" y1="848.23" x2="165.10" y2="848.23" stroke="#8f8f8f" stroke-width="1.0" />
<line x1="154.50" y1="856.29" x2="165.10" y2="856.29" stroke="#8f8f8f" stroke-width="1.0" />
<line x1="166.55" y1="855.06" x2="166.55" y2="846.39" stroke="#8f8f8f" stroke-width="1.0" />
<line x1="161.25" y1="846.39" x2="171.85" y2="846.39" stroke="#8f8f8f" stroke-width="1.0" />
<line x1="161.25" y1="855.06" x2="171.85" y2="855.06" stroke="#8f8f8f" stroke-width="1.0" />
<line x1="173.31" y1="853.36" x2="173.31" y2="843.84" stroke="#8f8f8f" stroke-width="1.0" />
<line x1="168.00" y1="843.84" x2="178.61" y2="843.84" stroke="#8f8f8f" stroke-width="1.0" />
<line x1="168.00" y1="853.36" x2="178.61" y2="853.36" stroke="#8f8f8f" stroke-width="1.0" />
<line x1="180.06" y1="851.52" x2="180.06" y2="841.08" stroke="#8f8f8f" stroke-width="1.0" />
<line x1="174.76" y1="841.08" x2="185.36" y2="841.08" stroke="#8f8f8f" stroke-width="1.0" />
<line x1="174.76" y1="851.52" x2="185.36" y2="851.52" stroke="#8f8f8f" stroke-width="1.0" />
<line x1="186.81" y1="849.67" x2="186.81" y2="838.31" stroke="#8f8f8f" stroke-width="1.0" />
<line x1="181.51" y1="838.31" x2="192.12" y2="838.31" stroke="#8f8f8f" stroke-width="1.0" />
<line x1="181.51" y1="849.67" x2="192.12" y2="849.67" stroke="#8f8f8f" stroke-width="1.0" />
<line x1="193.57" y1="847.83" x2="193.57" y2="835.55" stroke="#8f8f8f" stroke-width="1.0" />
<line x1="188.27" y1="835.55" x2="198.87" y2="835.55" stroke="#8f8f8f" stroke-width="1.0" />
<line x1="188.27" y1="847.83" x2="198.87" y2="847.83" stroke="#8f8f8f" stroke-width="1.0" />
<line x1="200.32" y1="845.66" x2="200.32" y2="832.29" stroke="#8f8f8f" stroke-width="1.0" />
<line x1="195.02" y1="832.29" x2="205.62" y2="832.29" stroke="#8f8f8f" stroke-width="1.0" />
<line x1="195.02" y1="845.66" x2="205.62" y2="845.66" stroke="#8f8f8f" stroke-width="1.0" />
<line x1="207.08" y1="843.39" x2="207.08" y2="828.88" stroke="#8f8f8f" stroke-width="1.0" />
<line x1="201.78" y1="828.88" x2="212.38" y2="828.88" stroke="#8f8f8f" stroke-width="1.0" />
<line x1="201.78" y1="843.39" x2="212.38" y2="843.39" stroke="#8f8f8f" stroke-width="1.0" />
<line x1="213.83" y1="841.11" x2="213.83" y2="825.47" stroke="#8f8f8f" stroke-width="1.0" />
<line x1="208.53" y1="825.47" x2="219.13" y2="825.47" stroke="#8f8f8f" stroke-width="1.0" />
<line x1="208.53" y1="841.11" x2="219.13" y2="841.11" stroke="#8f8f8f" stroke-width="1.0" />
<line x1="220.59" y1="838.84" x2="220.59" y2="822.05" stroke="#8f8f8f" stroke-width="1.0" />
<line x1="215.29" y1="822.05" x2="225.89" y2="822.05" stroke="#8f8f8f" stroke-width="1.0" />
<line x1="215.29" y1="838.84" x2="225.89" y2="838.84" stroke="#8f8f8f" stroke-width="1.0" />
<line x1="227.34" y1="836.56" x2="227.34" y2="818.65" stroke="#8f8f8f" stroke-width="1.0" />
<line x1="222.04" y1="818.65" x2="232.65" y2="818.65" stroke="#8f8f8f" stroke-width="1.0" />
<line x1="222.04" y1="836.56" x2="232.65" y2="836.56" stroke="#8f8f8f" stroke-width="1.0" />
<line x1="234.10" y1="834.39" x2="234.10" y2="815.38" stroke="#8f8f8f" stroke-width="1.0" />
<line x1="228.80" y1="815.38" x2="239.40" y2="815.38" stroke="#8f8f8f" stroke-width="1.0" />
<line x1="228.80" y1="834.39" x2="239.40" y2="834.39" stroke="#8f8f8f" stroke-width="1.0" />
<line x1="240.85" y1="832.22" x2="240.85" y2="812.12" stroke="#8f8f8f" stroke-width="1.0" />
<line x1="235.55" y1="812.12" x2="246.16" y2="812.12" stroke="#8f8f8f" stroke-width="1.0" />
<line x1="235.55" y1="832.22" x2="246.16" y2="832.22" stroke="#8f8f8f" stroke-width="1.0" />
<line x1="247.61" y1="830.04" x2="247.61" y2="808.86" stroke="#8f8f8f" stroke-width="1.0" />
<line x1="242.31" y1="808.86" x2="252.91" y2="808.86" stroke="#8f8f8f" stroke-width="1.0" />
<line x1="242.31" y1="830.04" x2="252.91" y2="830.04" stroke="#8f8f8f" stroke-width="1.0" />
<line x1="254.37" y1="827.87" x2="254.37" y2="805.60" stroke="#8f8f8f" stroke-width="1.0" />
<line x1="249.06" y1="805.60" x2="259.67" y2="805.60" stroke="#8f8f8f" stroke-width="1.0" />
<line x1="249.06" y1="827.87" x2="259.67" y2="827.87" stroke="#8f8f8f" stroke-width="1.0" />
<line x1="261.12" y1="825.69" x2="261.12" y2="802.34" stroke="#8f8f8f" stroke-width="1.0" />
<line x1="255.82" y1="802.34" x2="266.42" y2="802.34" stroke="#8f8f8f" stroke-width="1.0" />
<line x1="255.82" y1="825.69" x2="266.42" y2="825.69" stroke="#8f8f8f" stroke-width="1.0" />
<line x1="267.88" y1="823.52" x2="267.88" y2="799.08" stroke="#8f8f8f" stroke-width="1.0" />
<line x1="262.57" y1="799.08" x2="273.18" y2="799.08" stroke="#8f8f8f" stroke-width="1.0" />
<line x1="262.57" y1="823.52" x2="273.18" y2="823.52" stroke="#8f8f8f" stroke-width="1.0" />
<line x1="274.63" y1="821.34" x2="274.63" y2="795.81" stroke="#8f8f8f" stroke-width="1.0" />
<line x1="269.33" y1="795.81" x2="279.93" y2="795.81" stroke="#8f8f8f" stroke-width="1.0" />
<line x1="269.33" y1="821.34" x2="279.93" y2="821.34" stroke="#8f8f8f" stroke-width="1.0" />
<line x1="281.38" y1="819.17" x2="281.38" y2="792.55" stroke="#8f8f8f" stroke-width="1.0" />
<line x1="276.08" y1="792.55" x2="286.69" y2="792.55" stroke="#8f8f8f" stroke-width="1.0" />
<line x1="276.08" y1="819.17" x2="286.69" y2="819.17" stroke="#8f8f8f" stroke-width="1.0" />
<line x1="288.14" y1="816.99" x2="288.14" y2="789.29" stroke="#8f8f8f" stroke-width="1.0" />
<line x1="282.84" y1="789.29" x2="293.44" y2="789.29" stroke="#8f8f8f" stroke-width="1.0" />
<line x1="282.84" y1="816.99" x2="293.44" y2="816.99" stroke="#8f8f8f" stroke-width="1.0" />
<line x1="105.75" y1="867.69" x2="105.75" y2="862.69" stroke="#8f8f8f" stroke-width="1.0" />
<line x1="100.45" y1="862.69" x2="111.05" y2="862.69" stroke="#8f8f8f" stroke-width="1.0" />
<line x1="100.45" y1="867.69" x2="111.05" y2="867.69" stroke="#8f8f8f" stroke-width="1.0" />
<line x1="112.51" y1="862.28" x2="112.51" y2="857.22" stroke="#8f8f8f" stroke-width="1.0" />
<line x1="107.21" y1="857.22" x2="117.81" y2="857.22" stroke="#8f8f8f" stroke-width="1.0" />
<line x1="107.21" y1="862.28" x2="117.81" y2="862.28" stroke="#8f8f8f" stroke-width="1.0" />
<line x1="119.27" y1="859.40" x2="119.27" y2="852.90" stroke="#8f8f8f" stroke-width="1.0" />
<line x1="113.97" y1="852.90" x2="124.56" y2="852.90" stroke="#8f8f8f" stroke-width="1.0" />
<line x1="113.97" y1="859.40" x2="124.56" y2="859.40" stroke="#8f8f8f" stroke-width="1.0" />
<line x1="126.02" y1="858.00" x2="126.02" y2="850.80" stroke="#8f8f8f" stroke-width="1.0" />
<line x1="120.72" y1="850.80" x2="131.32" y2="850.80" stroke="#8f8f8f" stroke-width="1.0" />
<line x1="120.72" y1="858.00" x2="131.32" y2="858.00" stroke="#8f8f8f" stroke-width="1.0" />
<line x1="132.78" y1="856.63" x2="132.78" y2="848.75" stroke="#8f8f8f" stroke-width="1.0" />
<line x1="127.48" y1="848.75" x2="138.08" y2="848.75" stroke="#8f8f8f" stroke-width="1.0" />
<line x1="127.48" y1="856.63" x2="138.08" y2="856.63" stroke="#8f8f8f" stroke-width="1.0" />
<line x1="139.53" y1="855.27" x2="139.53" y2="846.70" stroke="#8f8f8f" stroke-width="1.0" />
<line x1="134.23" y1="846.70" x2="144.83" y2="846.70" stroke="#8f8f8f" stroke-width="1.0" />
<line x1="134.23" y1="855.27" x2="144.83" y2="855.27" stroke="#8f8f8f" stroke-width="1.0" />
<line x1="146.28" y1="853.90" x2="146.28" y2="844.65" stroke="#8f8f8f" stroke-width="1.0" />
<line x1="140.98" y1="844.65" x2="151.59" y2="844.65" stroke="#8f8f8f" stroke-width="1.0" />
<line x1="140.98" y1="853.90" x2="151.59" y2="853.90" stroke="#8f8f8f" stroke-width="1.0" />
<line x1="153.04" y1="852.37" x2="153.04" y2="842.36" stroke="#8f8f8f" stroke-width="1.0" />
<line x1="147.74" y1="842.36" x2="158.34" y2="842.36" stroke="#8f8f8f" stroke-width="1.0" />
<line x1="147.74" y1="852.37" x2="158.34" y2="852.37" stroke="#8f8f8f" stroke-width="1.0" />
<line x1="159.80" y1="850.74" x2="159.80" y2="839.92" stroke="#8f8f8f" stroke-width="1.0" />
<line x1="154.50" y1="839.92" x2="165.10" y2="839.92" stroke="#8f8f8f" stroke-width="1.0" />
<line x1="154.50" y1="850.74" x2="165.10" y2="850.74" stroke="#8f8f8f" stroke-width="1.0" />
<line x1="166.55" y1="849.12" x2="166.55" y2="837.47" stroke="#8f8f8f" stroke-width="1.0" />
<line x1="161.25" y1="837.47" x2="171.85" y2="837.47" stroke="#8f8f8f" stroke-width="1.0" />
<line x1="161.25" y1="849.12" x2="171.85" y2="849.12" stroke="#8f8f8f" stroke-width="1.0" />
<line x1="173.31" y1="846.71" x2="173.31" y2="833.86" stroke="#8f8f8f" stroke-width="1.0" />
<line x1="168.00" y1="833.86" x2="178.61" y2="833.86" stroke="#8f8f8f" stroke-width="1.0" />
<line x1="168.00" y1="846.71" x2="178.61" y2="846.71" stroke="#8f8f8f" stroke-width="1.0" />
<line x1="180.06" y1="844.07" x2="180.06" y2="829.90" stroke="#8f8f8f" stroke-width="1.0" />
<line x1="174.76" y1="829.90" x2="185.36" y2="829.90" stroke="#8f8f8f" stroke-width="1.0" />
<line x1="174.76" y1="844.07" x2="185.36" y2="844.07" stroke="#8f8f8f" stroke-width="1.0" />
<line x1="186.81" y1="841.42" x2="186.81" y2="825.94" stroke="#8f8f8f" stroke-width="1.0" />
<line x1="181.51" y1="825.94" x2="192.12" y2="825.94" stroke="#8f8f8f" stroke-width="1.0" />
<line x1="181.51" y1="841.42" x2="192.12" y2="841.42" stroke="#8f8f8f" stroke-width="1.0" />
<line x1="193.57" y1="838.78" x2="193.57" y2="821.97" stroke="#8f8f8f" stroke-width="1.0" />
<line x1="188.27" y1="821.97" x2="198.87" y2="821.97" stroke="#8f8f8f" stroke-width="1.0" />
<line x1="188.27" y1="838.78" x2="198.87" y2="838.78" stroke="#8f8f8f" stroke-width="1.0" />
<line x1="200.32" y1="836.19" x2="200.32" y2="818.08" stroke="#8f8f8f" stroke-width="1.0" />
<line x1="195.02" y1="818.08" x2="205.62" y2="818.08" stroke="#8f8f8f" stroke-width="1.0" />
<line x1="195.02" y1="836.19" x2="205.62" y2="836.19" stroke="#8f8f8f" stroke-width="1.0" />
<line x1="207.08" y1="833.61" x2="207.08" y2="814.22" stroke="#8f8f8f" stroke-width="1.0" />
<line x1="201.78" y1="814.22" x2="212.38" y2="814.22" stroke="#8f8f8f" stroke-width="1.0" />
<line x1="201.78" y1="833.61" x2="212.38" y2="833.61" stroke="#8f8f8f" stroke-width="1.0" />
<line x1="213.83" y1="831.04" x2="213.83" y2="810.35" stroke="#8f8f8f" stroke-width="1.0" />
<line x1="208.53" y1="810.35" x2="219.13" y2="810.35" stroke="#8f8f8f" stroke-width="1.0" />
<line x1="208.53" y1="831.04" x2="219.13" y2="831.04" stroke="#8f8f8f" stroke-width="1.0" />
<line x1="220.59" y1="828.46" x2="220.59" y2="806.49" stroke="#8f8f8f" stroke-width="1.0" />
<line x1="215.29" y1="806.49" x2="225.89" y2="806.49" stroke="#8f8f8f" stroke-width="1.0" />
<line x1="215.29" y1="828.46" x2="225.89" y2="828.46" stroke="#8f8f8f" stroke-width="1.0" />
<line x1="227.34" y1="825.88" x2="227.34" y2="802.62" stroke="#8f8f8f" stroke-width="1.0" />
<line x1="222.04" y1="802.62" x2="232.65" y2="802.62" stroke="#8f8f8f" stroke-width="1.0" />
<line x1="222.04" y1="825.88" x2="232.65" y2="825.88" stroke="#8f8f8f" stroke-width="1.0" />
<line x1="234.10" y1="823.24" x2="234.10" y2="798.66" stroke="#8f8f8f" stroke-width="1.0" />
<line x1="228.80" y1="798.66" x2="239.40" y2="798.66" stroke="#8f8f8f" stroke-width="1.0" />
<line x1="228.80" y1="823.24" x2="239.40" y2="823.24" stroke="#8f8f8f" stroke-width="1.0" />
<line x1="240.85" y1="820.60" x2="240.85" y2="794.70" stroke="#8f8f8f" stroke-width="1.0" />
<line x1="235.55" y1="794.70" x2="246.16" y2="794.70" stroke="#8f8f8f" stroke-width="1.0" />
<line x1="235.55" y1="820.60" x2="246.16" y2="820.60" stroke="#8f8f8f" stroke-width="1.0" />
<line x1="247.61" y1="817.96" x2="247.61" y2="790.74" stroke="#8f8f8f" stroke-width="1.0" />
<line x1="242.31" y1="790.74" x2="252.91" y2="790.74" stroke="#8f8f8f" stroke-width="1.0" />
<line x1="242.31" y1="817.96" x2="252.91" y2="817.96" stroke="#8f8f8f" stroke-width="1.0" />
<line x1="254.37" y1="815.32" x2="254.37" y2="786.77" stroke="#8f8f8f" stroke-width="1.0" />
<line x1="249.06" y1="786.77" x2="259.67" y2="786.77" stroke="#8f8f8f" stroke-width="1.0" />
<line x1="249.06" y1="815.32" x2="259.67" y2="815.32" stroke="#8f8f8f" stroke-width="1.0" />
<line x1="261.12" y1="812.67" x2="261.12" y2="782.81" stroke="#8f8f8f" stroke-width="1.0" />
<line x1="255.82" y1="782.81" x2="266.42" y2="782.81" stroke="#8f8f8f" stroke-width="1.0" />
<line x1="255.82" y1="812.67" x2="266.42" y2="812.67" stroke="#8f8f8f" stroke-width="1.0" />
<line x1="267.88" y1="810.03" x2="267.88" y2="778.85" stroke="#8f8f8f" stroke-width="1.0" />
<line x1="262.57" y1="778.85" x2="273.18" y2="778.85" stroke="#8f8f8f" stroke-width="1.0" />
<line x1="262.57" y1="810.03" x2="273.18" y2="810.03" stroke="#8f8f8f" stroke-width="1.0" />
<line x1="274.63" y1="807.39" x2="274.63" y2="774.89" stroke="#8f8f8f" stroke-width="1.0" />
<line x1="269.33" y1="774.89" x2="279.93" y2="774.89" stroke="#8f8f8f" stroke-width="1.0" />
<line x1="269.33" y1="807.39" x2="279.93" y2="807.39" stroke="#8f8f8f" stroke-width="1.0" />
<line x1="281.38" y1="804.75" x2="281.38" y2="770.93" stroke="#8f8f8f" stroke-width="1.0" />
<line x1="276.08" y1="770.93" x2="286.69" y2="770.93" stroke="#8f8f8f" stroke-width="1.0" />
<line x1="276.08" y1="804.75" x2="286.69" y2="804.75" stroke="#8f8f8f" stroke-width="1.0" />
<line x1="288.14" y1="802.11" x2="288.14" y2="766.96" stroke="#8f8f8f" stroke-width="1.0" />
<line x1="282.84" y1="766.96" x2="293.44" y2="766.96" stroke="#8f8f8f" stroke-width="1.0" />
<line x1="282.84" y1="802.11" x2="293.44" y2="802.11" stroke="#8f8f8f" stroke-width="1.0" />
<line x1="105.75" y1="869.49" x2="105.75" y2="864.49" stroke="#8f8f8f" stroke-width="1.0" />
<line x1="100.45" y1="864.49" x2="111.05" y2="864.49" stroke="#8f8f8f" stroke-width="1.0" />
<line x1="100.45" y1="869.49" x2="111.05" y2="869.49" stroke="#8f8f8f" stroke-width="1.0" />
<line x1="112.51" y1="864.90" x2="112.51" y2="859.90" stroke="#8f8f8f" stroke-width="1.0" />
<line x1="107.21" y1="859.90" x2="117.81" y2="859.90" stroke="#8f8f8f" stroke-width="1.0" />
<line x1="107.21" y1="864.90" x2="117.81" y2="864.90" stroke="#8f8f8f" stroke-width="1.0" />
<line x1="119.27" y1="861.14" x2="119.27" y2="856.14" stroke="#8f8f8f" stroke-width="1.0" />
<line x1="113.97" y1="856.14" x2="124.56" y2="856.14" stroke="#8f8f8f" stroke-width="1.0" />
<line x1="113.97" y1="861.14" x2="124.56" y2="861.14" stroke="#8f8f8f" stroke-width="1.0" />
<line x1="126.02" y1="857.02" x2="126.02" y2="852.02" stroke="#8f8f8f" stroke-width="1.0" />
<line x1="120.72" y1="852.02" x2="131.32" y2="852.02" stroke="#8f8f8f" stroke-width="1.0" />
<line x1="120.72" y1="857.02" x2="131.32" y2="857.02" stroke="#8f8f8f" stroke-width="1.0" />
<line x1="132.78" y1="853.18" x2="132.78" y2="847.94" stroke="#8f8f8f" stroke-width="1.0" />
<line x1="127.48" y1="847.94" x2="138.08" y2="847.94" stroke="#8f8f8f" stroke-width="1.0" />
<line x1="127.48" y1="853.18" x2="138.08" y2="853.18" stroke="#8f8f8f" stroke-width="1.0" />
<line x1="139.53" y1="850.11" x2="139.53" y2="844.04" stroke="#8f8f8f" stroke-width="1.0" />
<line x1="134.23" y1="844.04" x2="144.83" y2="844.04" stroke="#8f8f8f" stroke-width="1.0" />
<line x1="134.23" y1="850.11" x2="144.83" y2="850.11" stroke="#8f8f8f" stroke-width="1.0" />
<line x1="146.28" y1="849.67" x2="146.28" y2="837.50" stroke="#8f8f8f" stroke-width="1.0" />
<line x1="140.98" y1="837.50" x2="151.59" y2="837.50" stroke="#8f8f8f" stroke-width="1.0" />
<line x1="140.98" y1="849.67" x2="151.59" y2="849.67" stroke="#8f8f8f" stroke-width="1.0" />
<line x1="153.04" y1="849.06" x2="153.04" y2="832.50" stroke="#8f8f8f" stroke-width="1.0" />
<line x1="147.74" y1="832.50" x2="158.34" y2="832.50" stroke="#8f8f8f" stroke-width="1.0" />
<line x1="147.74" y1="849.06" x2="158.34" y2="849.06" stroke="#8f8f8f" stroke-width="1.0" />
<line x1="159.80" y1="848.54" x2="159.80" y2="828.30" stroke="#8f8f8f" stroke-width="1.0" />
<line x1="154.50" y1="828.30" x2="165.10" y2="828.30" stroke="#8f8f8f" stroke-width="1.0" />
<line x1="154.50" y1="848.54" x2="165.10" y2="848.54" stroke="#8f8f8f" stroke-width="1.0" />
<line x1="166.55" y1="844.50" x2="166.55" y2="824.20" stroke="#8f8f8f" stroke-width="1.0" />
<line x1="161.25" y1="824.20" x2="171.85" y2="824.20" stroke="#8f8f8f" stroke-width="1.0" />
<line x1="161.25" y1="844.50" x2="171.85" y2="844.50" stroke="#8f8f8f" stroke-width="1.0" />
<line x1="173.31" y1="838.80" x2="173.31" y2="817.00" stroke="#8f8f8f" stroke-width="1.0" />
<line x1="168.00" y1="817.00" x2="178.61" y2="817.00" stroke="#8f8f8f" stroke-width="1.0" />
<line x1="168.00" y1="838.80" x2="178.61" y2="838.80" stroke="#8f8f8f" stroke-width="1.0" />
<line x1="180.06" y1="831.61" x2="180.06" y2="810.30" stroke="#8f8f8f" stroke-width="1.0" />
<line x1="174.76" y1="810.30" x2="185.36" y2="810.30" stroke="#8f8f8f" stroke-width="1.0" />
<line x1="174.76" y1="831.61" x2="185.36" y2="831.61" stroke="#8f8f8f" stroke-width="1.0" />
<line x1="186.81" y1="826.50" x2="186.81" y2="803.00" stroke="#8f8f8f" stroke-width="1.0" />
<line x1="181.51" y1="803.00" x2="192.12" y2="803.00" stroke="#8f8f8f" stroke-width="1.0" />
<line x1="181.51" y1="826.50" x2="192.12" y2="826.50" stroke="#8f8f8f" stroke-width="1.0" />
<line x1="193.57" y1="826.45" x2="193.57" y2="791.50" stroke="#8f8f8f" stroke-width="1.0" />
<line x1="188.27" y1="791.50" x2="198.87" y2="791.50" stroke="#8f8f8f" stroke-width="1.0" />
<line x1="188.27" y1="826.45" x2="198.87" y2="826.45" stroke="#8f8f8f" stroke-width="1.0" />
<line x1="200.32" y1="826.94" x2="200.32" y2="780.50" stroke="#8f8f8f" stroke-width="1.0" />
<line x1="195.02" y1="780.50" x2="205.62" y2="780.50" stroke="#8f8f8f" stroke-width="1.0" />
<line x1="195.02" y1="826.94" x2="205.62" y2="826.94" stroke="#8f8f8f" stroke-width="1.0" />
<line x1="207.08" y1="822.47" x2="207.08" y2="773.10" stroke="#8f8f8f" stroke-width="1.0" />
<line x1="201.78" y1="773.10" x2="212.38" y2="773.10" stroke="#8f8f8f" stroke-width="1.0" />
<line x1="201.78" y1="822.47" x2="212.38" y2="822.47" stroke="#8f8f8f" stroke-width="1.0" />
<line x1="213.83" y1="818.39" x2="213.83" y2="761.40" stroke="#8f8f8f" stroke-width="1.0" />
<line x1="208.53" y1="761.40" x2="219.13" y2="761.40" stroke="#8f8f8f" stroke-width="1.0" />
<line x1="208.53" y1="818.39" x2="219.13" y2="818.39" stroke="#8f8f8f" stroke-width="1.0" />
<line x1="220.59" y1="807.12" x2="220.59" y2="752.90" stroke="#8f8f8f" stroke-width="1.0" />
<line x1="215.29" y1="752.90" x2="225.89" y2="752.90" stroke="#8f8f8f" stroke-width="1.0" />
<line x1="215.29" y1="807.12" x2="225.89" y2="807.12" stroke="#8f8f8f" stroke-width="1.0" />
<line x1="227.34" y1="805.29" x2="227.34" y2="741.40" stroke="#8f8f8f" stroke-width="1.0" />
<line x1="222.04" y1="741.40" x2="232.65" y2="741.40" stroke="#8f8f8f" stroke-width="1.0" />
<line x1="222.04" y1="805.29" x2="232.65" y2="805.29" stroke="#8f8f8f" stroke-width="1.0" />
<line x1="234.10" y1="802.97" x2="234.10" y2="737.40" stroke="#8f8f8f" stroke-width="1.0" />
<line x1="228.80" y1="737.40" x2="239.40" y2="737.40" stroke="#8f8f8f" stroke-width="1.0" />
<line x1="228.80" y1="802.97" x2="239.40" y2="802.97" stroke="#8f8f8f" stroke-width="1.0" />
<line x1="240.85" y1="801.85" x2="240.85" y2="733.30" stroke="#8f8f8f" stroke-width="1.0" />
<line x1="235.55" y1="733.30" x2="246.16" y2="733.30" stroke="#8f8f8f" stroke-width="1.0" />
<line x1="235.55" y1="801.85" x2="246.16" y2="801.85" stroke="#8f8f8f" stroke-width="1.0" />
<line x1="247.61" y1="798.39" x2="247.61" y2="727.90" stroke="#8f8f8f" stroke-width="1.0" />
<line x1="242.31" y1="727.90" x2="252.91" y2="727.90" stroke="#8f8f8f" stroke-width="1.0" />
<line x1="242.31" y1="798.39" x2="252.91" y2="798.39" stroke="#8f8f8f" stroke-width="1.0" />
<line x1="254.37" y1="789.58" x2="254.37" y2="720.20" stroke="#8f8f8f" stroke-width="1.0" />
<line x1="249.06" y1="720.20" x2="259.67" y2="720.20" stroke="#8f8f8f" stroke-width="1.0" />
<line x1="249.06" y1="789.58" x2="259.67" y2="789.58" stroke="#8f8f8f" stroke-width="1.0" />
<line x1="261.12" y1="788.23" x2="261.12" y2="706.40" stroke="#8f8f8f" stroke-width="1.0" />
<line x1="255.82" y1="706.40" x2="266.42" y2="706.40" stroke="#8f8f8f" stroke-width="1.0" />
<line x1="255.82" y1="788.23" x2="266.42" y2="788.23" stroke="#8f8f8f" stroke-width="1.0" />
<line x1="267.88" y1="785.54" x2="267.88" y2="696.70" stroke="#8f8f8f" stroke-width="1.0" />
<line x1="262.57" y1="696.70" x2="273.18" y2="696.70" stroke="#8f8f8f" stroke-width="1.0" />
<line x1="262.57" y1="785.54" x2="273.18" y2="785.54" stroke="#8f8f8f" stroke-width="1.0" />
<line x1="274.63" y1="781.27" x2="274.63" y2="691.00" stroke="#8f8f8f" stroke-width="1.0" />
<line x1="269.33" y1="691.00" x2="279.93" y2="691.00" stroke="#8f8f8f" stroke-width="1.0" />
<line x1="269.33" y1="781.27" x2="279.93" y2="781.27" stroke="#8f8f8f" stroke-width="1.0" />
<line x1="281.38" y1="778.28" x2="281.38" y2="681.40" stroke="#8f8f8f" stroke-width="1.0" />
<line x1="276.08" y1="681.40" x2="286.69" y2="681.40" stroke="#8f8f8f" stroke-width="1.0" />
<line x1="276.08" y1="778.28" x2="286.69" y2="778.28" stroke="#8f8f8f" stroke-width="1.0" />
<line x1="288.14" y1="766.46" x2="288.14" y2="669.00" stroke="#8f8f8f" stroke-width="1.0" />
<line x1="282.84" y1="669.00" x2="293.44" y2="669.00" stroke="#8f8f8f" stroke-width="1.0" />
<line x1="282.84" y1="766.46" x2="293.44" y2="766.46" stroke="#8f8f8f" stroke-width="1.0" />
<circle cx="101.24" cy="871.25" r="2.7" fill="#fff" stroke="#1e1978" stroke-width="1.1"/>
<circle cx="102.36" cy="870.85" r="2.7" fill="#fff" stroke="#1e1978" stroke-width="1.1"/>
<circle cx="103.48" cy="870.25" r="2.7" fill="#fff" stroke="#1e1978" stroke-width="1.1"/>
<circle cx="104.60" cy="869.83" r="2.7" fill="#fff" stroke="#1e1978" stroke-width="1.1"/>
<circle cx="105.72" cy="869.32" r="2.7" fill="#fff" stroke="#1e1978" stroke-width="1.1"/>
<circle cx="106.84" cy="868.55" r="2.7" fill="#fff" stroke="#1e1978" stroke-width="1.1"/>
<circle cx="107.96" cy="868.00" r="2.7" fill="#fff" stroke="#1e1978" stroke-width="1.1"/>
<circle cx="109.07" cy="867.85" r="2.7" fill="#fff" stroke="#1e1978" stroke-width="1.1"/>
<circle cx="110.19" cy="867.12" r="2.7" fill="#fff" stroke="#1e1978" stroke-width="1.1"/>
<circle cx="111.31" cy="866.65" r="2.7" fill="#fff" stroke="#1e1978" stroke-width="1.1"/>
<circle cx="112.43" cy="866.56" r="2.7" fill="#fff" stroke="#1e1978" stroke-width="1.1"/>
<circle cx="113.55" cy="865.84" r="2.7" fill="#fff" stroke="#1e1978" stroke-width="1.1"/>
<circle cx="114.67" cy="865.57" r="2.7" fill="#fff" stroke="#1e1978" stroke-width="1.1"/>
<circle cx="115.79" cy="864.93" r="2.7" fill="#fff" stroke="#1e1978" stroke-width="1.1"/>
<circle cx="116.91" cy="864.56" r="2.7" fill="#fff" stroke="#1e1978" stroke-width="1.1"/>
<circle cx="118.03" cy="863.85" r="2.7" fill="#fff" stroke="#1e1978" stroke-width="1.1"/>
<circle cx="119.15" cy="863.64" r="2.7" fill="#fff" stroke="#1e1978" stroke-width="1.1"/>
<circle cx="120.27" cy="863.31" r="2.7" fill="#fff" stroke="#1e1978" stroke-width="1.1"/>
<circle cx="121.39" cy="862.67" r="2.7" fill="#fff" stroke="#1e1978" stroke-width="1.1"/>
<circle cx="122.51" cy="862.33" r="2.7" fill="#fff" stroke="#1e1978" stroke-width="1.1"/>
<circle cx="123.63" cy="861.84" r="2.7" fill="#fff" stroke="#1e1978" stroke-width="1.1"/>
<circle cx="124.75" cy="861.04" r="2.7" fill="#fff" stroke="#1e1978" stroke-width="1.1"/>
<circle cx="125.87" cy="860.97" r="2.7" fill="#fff" stroke="#1e1978" stroke-width="1.1"/>
<circle cx="126.99" cy="860.42" r="2.7" fill="#fff" stroke="#1e1978" stroke-width="1.1"/>
<circle cx="128.10" cy="859.80" r="2.7" fill="#fff" stroke="#1e1978" stroke-width="1.1"/>
<circle cx="129.22" cy="859.18" r="2.7" fill="#fff" stroke="#1e1978" stroke-width="1.1"/>
<circle cx="130.34" cy="859.28" r="2.7" fill="#fff" stroke="#1e1978" stroke-width="1.1"/>
<circle cx="131.46" cy="858.78" r="2.7" fill="#fff" stroke="#1e1978" stroke-width="1.1"/>
<circle cx="132.58" cy="858.67" r="2.7" fill="#fff" stroke="#1e1978" stroke-width="1.1"/>
<circle cx="133.70" cy="858.51" r="2.7" fill="#fff" stroke="#1e1978" stroke-width="1.1"/>
<circle cx="134.82" cy="858.15" r="2.7" fill="#fff" stroke="#1e1978" stroke-width="1.1"/>
<circle cx="135.94" cy="858.02" r="2.7" fill="#fff" stroke="#1e1978" stroke-width="1.1"/>
<circle cx="137.06" cy="857.43" r="2.7" fill="#fff" stroke="#1e1978" stroke-width="1.1"/>
<circle cx="138.18" cy="857.43" r="2.7" fill="#fff" stroke="#1e1978" stroke-width="1.1"/>
<circle cx="139.30" cy="856.93" r="2.7" fill="#fff" stroke="#1e1978" stroke-width="1.1"/>
<circle cx="140.42" cy="857.00" r="2.7" fill="#fff" stroke="#1e1978" stroke-width="1.1"/>
<circle cx="141.54" cy="856.70" r="2.7" fill="#fff" stroke="#1e1978" stroke-width="1.1"/>
<circle cx="142.66" cy="855.92" r="2.7" fill="#fff" stroke="#1e1978" stroke-width="1.1"/>
<circle cx="143.78" cy="855.68" r="2.7" fill="#fff" stroke="#1e1978" stroke-width="1.1"/>
<circle cx="144.90" cy="855.47" r="2.7" fill="#fff" stroke="#1e1978" stroke-width="1.1"/>
<circle cx="146.02" cy="855.73" r="2.7" fill="#fff" stroke="#1e1978" stroke-width="1.1"/>
<circle cx="147.13" cy="855.10" r="2.7" fill="#fff" stroke="#1e1978" stroke-width="1.1"/>
<circle cx="148.25" cy="854.97" r="2.7" fill="#fff" stroke="#1e1978" stroke-width="1.1"/>
<circle cx="149.37" cy="854.48" r="2.7" fill="#fff" stroke="#1e1978" stroke-width="1.1"/>
<circle cx="150.49" cy="854.38" r="2.7" fill="#fff" stroke="#1e1978" stroke-width="1.1"/>
<circle cx="151.61" cy="854.03" r="2.7" fill="#fff" stroke="#1e1978" stroke-width="1.1"/>
<circle cx="152.73" cy="853.75" r="2.7" fill="#fff" stroke="#1e1978" stroke-width="1.1"/>
<circle cx="153.85" cy="853.67" r="2.7" fill="#fff" stroke="#1e1978" stroke-width="1.1"/>
<circle cx="154.97" cy="853.42" r="2.7" fill="#fff" stroke="#1e1978" stroke-width="1.1"/>
<circle cx="156.09" cy="853.41" r="2.7" fill="#fff" stroke="#1e1978" stroke-width="1.1"/>
<circle cx="157.21" cy="852.99" r="2.7" fill="#fff" stroke="#1e1978" stroke-width="1.1"/>
<circle cx="158.33" cy="852.92" r="2.7" fill="#fff" stroke="#1e1978" stroke-width="1.1"/>
<circle cx="159.45" cy="852.62" r="2.7" fill="#fff" stroke="#1e1978" stroke-width="1.1"/>
<circle cx="160.57" cy="852.47" r="2.7" fill="#fff" stroke="#1e1978" stroke-width="1.1"/>
<circle cx="161.69" cy="851.97" r="2.7" fill="#fff" stroke="#1e1978" stroke-width="1.1"/>
<circle cx="162.81" cy="851.30" r="2.7" fill="#fff" stroke="#1e1978" stroke-width="1.1"/>
<circle cx="163.93" cy="851.61" r="2.7" fill="#fff" stroke="#1e1978" stroke-width="1.1"/>
<circle cx="165.05" cy="851.45" r="2.7" fill="#fff" stroke="#1e1978" stroke-width="1.1"/>
<circle cx="166.16" cy="851.15" r="2.7" fill="#fff" stroke="#1e1978" stroke-width="1.1"/>
<circle cx="167.28" cy="850.62" r="2.7" fill="#fff" stroke="#1e1978" stroke-width="1.1"/>
<circle cx="168.40" cy="850.45" r="2.7" fill="#fff" stroke="#1e1978" stroke-width="1.1"/>
<circle cx="169.52" cy="849.65" r="2.7" fill="#fff" stroke="#1e1978" stroke-width="1.1"/>
<circle cx="170.64" cy="849.79" r="2.7" fill="#fff" stroke="#1e1978" stroke-width="1.1"/>
<circle cx="171.76" cy="849.19" r="2.7" fill="#fff" stroke="#1e1978" stroke-width="1.1"/>
<circle cx="172.88" cy="848.56" r="2.7" fill="#fff" stroke="#1e1978" stroke-width="1.1"/>
<circle cx="174.00" cy="847.98" r="2.7" fill="#fff" stroke="#1e1978" stroke-width="1.1"/>
<circle cx="175.12" cy="848.29" r="2.7" fill="#fff" stroke="#1e1978" stroke-width="1.1"/>
<circle cx="176.24" cy="848.03" r="2.7" fill="#fff" stroke="#1e1978" stroke-width="1.1"/>
<circle cx="177.36" cy="846.85" r="2.7" fill="#fff" stroke="#1e1978" stroke-width="1.1"/>
<circle cx="178.48" cy="847.11" r="2.7" fill="#fff" stroke="#1e1978" stroke-width="1.1"/>
<circle cx="179.60" cy="846.37" r="2.7" fill="#fff" stroke="#1e1978" stroke-width="1.1"/>
<circle cx="180.72" cy="845.75" r="2.7" fill="#fff" stroke="#1e1978" stroke-width="1.1"/>
<circle cx="181.84" cy="845.50" r="2.7" fill="#fff" stroke="#1e1978" stroke-width="1.1"/>
<circle cx="182.96" cy="845.56" r="2.7" fill="#fff" stroke="#1e1978" stroke-width="1.1"/>
<circle cx="184.08" cy="845.28" r="2.7" fill="#fff" stroke="#1e1978" stroke-width="1.1"/>
<circle cx="185.19" cy="844.12" r="2.7" fill="#fff" stroke="#1e1978" stroke-width="1.1"/>
<circle cx="186.31" cy="844.27" r="2.7" fill="#fff" stroke="#1e1978" stroke-width="1.1"/>
<circle cx="187.43" cy="843.35" r="2.7" fill="#fff" stroke="#1e1978" stroke-width="1.1"/>
<circle cx="188.55" cy="843.61" r="2.7" fill="#fff" stroke="#1e1978" stroke-width="1.1"/>
<circle cx="189.67" cy="842.85" r="2.7" fill="#fff" stroke="#1e1978" stroke-width="1.1"/>
<circle cx="190.79" cy="843.01" r="2.7" fill="#fff" stroke="#1e1978" stroke-width="1.1"/>
<circle cx="191.91" cy="842.73" r="2.7" fill="#fff" stroke="#1e1978" stroke-width="1.1"/>
<circle cx="193.03" cy="841.88" r="2.7" fill="#fff" stroke="#1e1978" stroke-width="1.1"/>
<circle cx="194.15" cy="841.99" r="2.7" fill="#fff" stroke="#1e1978" stroke-width="1.1"/>
<circle cx="195.27" cy="840.92" r="2.7" fill="#fff" stroke="#1e1978" stroke-width="1.1"/>
<circle cx="196.39" cy="840.21" r="2.7" fill="#fff" stroke="#1e1978" stroke-width="1.1"/>
<circle cx="197.51" cy="840.27" r="2.7" fill="#fff" stroke="#1e1978" stroke-width="1.1"/>
<circle cx="198.63" cy="839.21" r="2.7" fill="#fff" stroke="#1e1978" stroke-width="1.1"/>
<circle cx="199.75" cy="838.91" r="2.7" fill="#fff" stroke="#1e1978" stroke-width="1.1"/>
<circle cx="200.87" cy="838.65" r="2.7" fill="#fff" stroke="#1e1978" stroke-width="1.1"/>
<circle cx="201.99" cy="838.40" r="2.7" fill="#fff" stroke="#1e1978" stroke-width="1.1"/>
<circle cx="203.11" cy="837.44" r="2.7" fill="#fff" stroke="#1e1978" stroke-width="1.1"/>
<circle cx="204.22" cy="836.85" r="2.7" fill="#fff" stroke="#1e1978" stroke-width="1.1"/>
<circle cx="205.34" cy="837.26" r="2.7" fill="#fff" stroke="#1e1978" stroke-width="1.1"/>
<circle cx="206.46" cy="836.19" r="2.7" fill="#fff" stroke="#1e1978" stroke-width="1.1"/>
<circle cx="207.58" cy="836.42" r="2.7" fill="#fff" stroke="#1e1978" stroke-width="1.1"/>
<circle cx="208.70" cy="835.88" r="2.7" fill="#fff" stroke="#1e1978" stroke-width="1.1"/>
<circle cx="209.82" cy="834.84" r="2.7" fill="#fff" stroke="#1e1978" stroke-width="1.1"/>
<circle cx="210.94" cy="834.46" r="2.7" fill="#fff" stroke="#1e1978" stroke-width="1.1"/>
<circle cx="212.06" cy="834.06" r="2.7" fill="#fff" stroke="#1e1978" stroke-width="1.1"/>
<circle cx="213.18" cy="833.73" r="2.7" fill="#fff" stroke="#1e1978" stroke-width="1.1"/>
<circle cx="214.30" cy="833.20" r="2.7" fill="#fff" stroke="#1e1978" stroke-width="1.1"/>
<circle cx="215.42" cy="832.69" r="2.7" fill="#fff" stroke="#1e1978" stroke-width="1.1"/>
<circle cx="216.54" cy="832.29" r="2.7" fill="#fff" stroke="#1e1978" stroke-width="1.1"/>
<circle cx="217.66" cy="832.19" r="2.7" fill="#fff" stroke="#1e1978" stroke-width="1.1"/>
<circle cx="218.78" cy="831.22" r="2.7" fill="#fff" stroke="#1e1978" stroke-width="1.1"/>
<circle cx="219.90" cy="830.66" r="2.7" fill="#fff" stroke="#1e1978" stroke-width="1.1"/>
<circle cx="221.02" cy="830.52" r="2.7" fill="#fff" stroke="#1e1978" stroke-width="1.1"/>
<circle cx="222.14" cy="829.48" r="2.7" fill="#fff" stroke="#1e1978" stroke-width="1.1"/>
<circle cx="223.25" cy="829.09" r="2.7" fill="#fff" stroke="#1e1978" stroke-width="1.1"/>
<circle cx="224.37" cy="829.42" r="2.7" fill="#fff" stroke="#1e1978" stroke-width="1.1"/>
<circle cx="225.49" cy="828.40" r="2.7" fill="#fff" stroke="#1e1978" stroke-width="1.1"/>
<circle cx="226.61" cy="827.97" r="2.7" fill="#fff" stroke="#1e1978" stroke-width="1.1"/>
<circle cx="227.73" cy="826.86" r="2.7" fill="#fff" stroke="#1e1978" stroke-width="1.1"/>
<circle cx="228.85" cy="826.90" r="2.7" fill="#fff" stroke="#1e1978" stroke-width="1.1"/>
<circle cx="229.97" cy="826.65" r="2.7" fill="#fff" stroke="#1e1978" stroke-width="1.1"/>
<circle cx="231.09" cy="825.51" r="2.7" fill="#fff" stroke="#1e1978" stroke-width="1.1"/>
<circle cx="232.21" cy="825.79" r="2.7" fill="#fff" stroke="#1e1978" stroke-width="1.1"/>
<circle cx="233.33" cy="825.36" r="2.7" fill="#fff" stroke="#1e1978" stroke-width="1.1"/>
<circle cx="234.45" cy="824.19" r="2.7" fill="#fff" stroke="#1e1978" stroke-width="1.1"/>
<circle cx="235.57" cy="824.46" r="2.7" fill="#fff" stroke="#1e1978" stroke-width="1.1"/>
<circle cx="236.69" cy="823.80" r="2.7" fill="#fff" stroke="#1e1978" stroke-width="1.1"/>
<circle cx="237.81" cy="823.62" r="2.7" fill="#fff" stroke="#1e1978" stroke-width="1.1"/>
<circle cx="238.93" cy="822.76" r="2.7" fill="#fff" stroke="#1e1978" stroke-width="1.1"/>
<circle cx="240.05" cy="822.76" r="2.7" fill="#fff" stroke="#1e1978" stroke-width="1.1"/>
<circle cx="241.17" cy="822.35" r="2.7" fill="#fff" stroke="#1e1978" stroke-width="1.1"/>
<circle cx="242.28" cy="820.97" r="2.7" fill="#fff" stroke="#1e1978" stroke-width="1.1"/>
<circle cx="243.40" cy="820.57" r="2.7" fill="#fff" stroke="#1e1978" stroke-width="1.1"/>
<circle cx="244.52" cy="820.92" r="2.7" fill="#fff" stroke="#1e1978" stroke-width="1.1"/>
<circle cx="245.64" cy="820.86" r="2.7" fill="#fff" stroke="#1e1978" stroke-width="1.1"/>
<circle cx="246.76" cy="819.46" r="2.7" fill="#fff" stroke="#1e1978" stroke-width="1.1"/>
<circle cx="247.88" cy="819.28" r="2.7" fill="#fff" stroke="#1e1978" stroke-width="1.1"/>
<circle cx="249.00" cy="819.02" r="2.7" fill="#fff" stroke="#1e1978" stroke-width="1.1"/>
<circle cx="250.12" cy="818.20" r="2.7" fill="#fff" stroke="#1e1978" stroke-width="1.1"/>
<circle cx="251.24" cy="817.81" r="2.7" fill="#fff" stroke="#1e1978" stroke-width="1.1"/>
<circle cx="252.36" cy="817.28" r="2.7" fill="#fff" stroke="#1e1978" stroke-width="1.1"/>
<circle cx="253.48" cy="816.91" r="2.7" fill="#fff" stroke="#1e1978" stroke-width="1.1"/>
<circle cx="254.60" cy="816.77" r="2.7" fill="#fff" stroke="#1e1978" stroke-width="1.1"/>
<circle cx="255.72" cy="815.91" r="2.7" fill="#fff" stroke="#1e1978" stroke-width="1.1"/>
<circle cx="256.84" cy="815.57" r="2.7" fill="#fff" stroke="#1e1978" stroke-width="1.1"/>
<circle cx="257.96" cy="815.67" r="2.7" fill="#fff" stroke="#1e1978" stroke-width="1.1"/>
<circle cx="259.08" cy="814.17" r="2.7" fill="#fff" stroke="#1e1978" stroke-width="1.1"/>
<circle cx="260.20" cy="814.48" r="2.7" fill="#fff" stroke="#1e1978" stroke-width="1.1"/>
<circle cx="261.31" cy="814.27" r="2.7" fill="#fff" stroke="#1e1978" stroke-width="1.1"/>
<circle cx="262.43" cy="813.21" r="2.7" fill="#fff" stroke="#1e1978" stroke-width="1.1"/>
<circle cx="263.55" cy="812.64" r="2.7" fill="#fff" stroke="#1e1978" stroke-width="1.1"/>
<circle cx="264.67" cy="813.02" r="2.7" fill="#fff" stroke="#1e1978" stroke-width="1.1"/>
<circle cx="265.79" cy="811.76" r="2.7" fill="#fff" stroke="#1e1978" stroke-width="1.1"/>
<circle cx="266.91" cy="811.23" r="2.7" fill="#fff" stroke="#1e1978" stroke-width="1.1"/>
<circle cx="268.03" cy="811.14" r="2.7" fill="#fff" stroke="#1e1978" stroke-width="1.1"/>
<circle cx="269.15" cy="811.07" r="2.7" fill="#fff" stroke="#1e1978" stroke-width="1.1"/>
<circle cx="270.27" cy="809.74" r="2.7" fill="#fff" stroke="#1e1978" stroke-width="1.1"/>
<circle cx="271.39" cy="809.62" r="2.7" fill="#fff" stroke="#1e1978" stroke-width="1.1"/>
<circle cx="272.51" cy="809.18" r="2.7" fill="#fff" stroke="#1e1978" stroke-width="1.1"/>
<circle cx="273.63" cy="809.48" r="2.7" fill="#fff" stroke="#1e1978" stroke-width="1.1"/>
<circle cx="274.75" cy="808.44" r="2.7" fill="#fff" stroke="#1e1978" stroke-width="1.1"/>
<circle cx="275.87" cy="808.62" r="2.7" fill="#fff" stroke="#1e1978" stroke-width="1.1"/>
<circle cx="276.99" cy="807.13" r="2.7" fill="#fff" stroke="#1e1978" stroke-width="1.1"/>
<circle cx="278.11" cy="806.93" r="2.7" fill="#fff" stroke="#1e1978" stroke-width="1.1"/>
<circle cx="279.23" cy="806.96" r="2.7" fill="#fff" stroke="#1e1978" stroke-width="1.1"/>
<circle cx="280.34" cy="806.87" r="2.7" fill="#fff" stroke="#1e1978" stroke-width="1.1"/>
<circle cx="281.46" cy="805.75" r="2.7" fill="#fff" stroke="#1e1978" stroke-width="1.1"/>
<circle cx="282.58" cy="804.95" r="2.7" fill="#fff" stroke="#1e1978" stroke-width="1.1"/>
<circle cx="283.70" cy="804.33" r="2.7" fill="#fff" stroke="#1e1978" stroke-width="1.1"/>
<circle cx="284.82" cy="804.52" r="2.7" fill="#fff" stroke="#1e1978" stroke-width="1.1"/>
<circle cx="285.94" cy="803.54" r="2.7" fill="#fff" stroke="#1e1978" stroke-width="1.1"/>
<circle cx="287.06" cy="804.06" r="2.7" fill="#fff" stroke="#1e1978" stroke-width="1.1"/>
<circle cx="288.18" cy="803.67" r="2.7" fill="#fff" stroke="#1e1978" stroke-width="1.1"/>
<circle cx="289.30" cy="802.19" r="2.7" fill="#fff" stroke="#1e1978" stroke-width="1.1"/>
<circle cx="100.36" cy="870.86" r="2.7" fill="#fff" stroke="#f39330" stroke-width="1.0"/>
<circle cx="101.72" cy="869.63" r="2.7" fill="#fff" stroke="#f39330" stroke-width="1.0"/>
<circle cx="103.08" cy="868.11" r="2.7" fill="#fff" stroke="#f39330" stroke-width="1.0"/>
<circle cx="104.44" cy="866.73" r="2.7" fill="#fff" stroke="#f39330" stroke-width="1.0"/>
<circle cx="105.80" cy="865.08" r="2.7" fill="#fff" stroke="#f39330" stroke-width="1.0"/>
<circle cx="107.16" cy="863.53" r="2.7" fill="#fff" stroke="#f39330" stroke-width="1.0"/>
<circle cx="108.51" cy="862.15" r="2.7" fill="#fff" stroke="#f39330" stroke-width="1.0"/>
<circle cx="109.87" cy="861.30" r="2.7" fill="#fff" stroke="#f39330" stroke-width="1.0"/>
<circle cx="111.23" cy="860.32" r="2.7" fill="#fff" stroke="#f39330" stroke-width="1.0"/>
<circle cx="112.59" cy="859.63" r="2.7" fill="#fff" stroke="#f39330" stroke-width="1.0"/>
<circle cx="113.95" cy="858.94" r="2.7" fill="#fff" stroke="#f39330" stroke-width="1.0"/>
<circle cx="115.31" cy="858.22" r="2.7" fill="#fff" stroke="#f39330" stroke-width="1.0"/>
<circle cx="116.67" cy="857.48" r="2.7" fill="#fff" stroke="#f39330" stroke-width="1.0"/>
<circle cx="118.03" cy="857.02" r="2.7" fill="#fff" stroke="#f39330" stroke-width="1.0"/>
<circle cx="119.39" cy="855.90" r="2.7" fill="#fff" stroke="#f39330" stroke-width="1.0"/>
<circle cx="120.75" cy="855.47" r="2.7" fill="#fff" stroke="#f39330" stroke-width="1.0"/>
<circle cx="122.11" cy="855.63" r="2.7" fill="#fff" stroke="#f39330" stroke-width="1.0"/>
<circle cx="123.47" cy="855.26" r="2.7" fill="#fff" stroke="#f39330" stroke-width="1.0"/>
<circle cx="124.83" cy="854.98" r="2.7" fill="#fff" stroke="#f39330" stroke-width="1.0"/>
<circle cx="126.19" cy="854.32" r="2.7" fill="#fff" stroke="#f39330" stroke-width="1.0"/>
<circle cx="127.54" cy="854.28" r="2.7" fill="#fff" stroke="#f39330" stroke-width="1.0"/>
<circle cx="128.90" cy="853.92" r="2.7" fill="#fff" stroke="#f39330" stroke-width="1.0"/>
<circle cx="130.26" cy="853.16" r="2.7" fill="#fff" stroke="#f39330" stroke-width="1.0"/>
<circle cx="131.62" cy="853.13" r="2.7" fill="#fff" stroke="#f39330" stroke-width="1.0"/>
<circle cx="132.98" cy="852.85" r="2.7" fill="#fff" stroke="#f39330" stroke-width="1.0"/>
<circle cx="134.34" cy="852.40" r="2.7" fill="#fff" stroke="#f39330" stroke-width="1.0"/>
<circle cx="135.70" cy="851.97" r="2.7" fill="#fff" stroke="#f39330" stroke-width="1.0"/>
<circle cx="137.06" cy="851.47" r="2.7" fill="#fff" stroke="#f39330" stroke-width="1.0"/>
<circle cx="138.42" cy="851.16" r="2.7" fill="#fff" stroke="#f39330" stroke-width="1.0"/>
<circle cx="139.78" cy="850.74" r="2.7" fill="#fff" stroke="#f39330" stroke-width="1.0"/>
<circle cx="141.14" cy="850.29" r="2.7" fill="#fff" stroke="#f39330" stroke-width="1.0"/>
<circle cx="142.50" cy="850.29" r="2.7" fill="#fff" stroke="#f39330" stroke-width="1.0"/>
<circle cx="143.86" cy="849.74" r="2.7" fill="#fff" stroke="#f39330" stroke-width="1.0"/>
<circle cx="145.22" cy="849.76" r="2.7" fill="#fff" stroke="#f39330" stroke-width="1.0"/>
<circle cx="146.57" cy="848.88" r="2.7" fill="#fff" stroke="#f39330" stroke-width="1.0"/>
<circle cx="147.93" cy="849.14" r="2.7" fill="#fff" stroke="#f39330" stroke-width="1.0"/>
<circle cx="149.29" cy="848.64" r="2.7" fill="#fff" stroke="#f39330" stroke-width="1.0"/>
<circle cx="150.65" cy="848.40" r="2.7" fill="#fff" stroke="#f39330" stroke-width="1.0"/>
<circle cx="152.01" cy="847.97" r="2.7" fill="#fff" stroke="#f39330" stroke-width="1.0"/>
<circle cx="153.37" cy="847.57" r="2.7" fill="#fff" stroke="#f39330" stroke-width="1.0"/>
<circle cx="154.73" cy="846.92" r="2.7" fill="#fff" stroke="#f39330" stroke-width="1.0"/>
<circle cx="156.09" cy="846.08" r="2.7" fill="#fff" stroke="#f39330" stroke-width="1.0"/>
<circle cx="157.45" cy="846.23" r="2.7" fill="#fff" stroke="#f39330" stroke-width="1.0"/>
<circle cx="158.81" cy="845.37" r="2.7" fill="#fff" stroke="#f39330" stroke-width="1.0"/>
<circle cx="160.17" cy="845.06" r="2.7" fill="#fff" stroke="#f39330" stroke-width="1.0"/>
<circle cx="161.53" cy="844.94" r="2.7" fill="#fff" stroke="#f39330" stroke-width="1.0"/>
<circle cx="162.89" cy="844.42" r="2.7" fill="#fff" stroke="#f39330" stroke-width="1.0"/>
<circle cx="164.25" cy="843.92" r="2.7" fill="#fff" stroke="#f39330" stroke-width="1.0"/>
<circle cx="165.60" cy="843.94" r="2.7" fill="#fff" stroke="#f39330" stroke-width="1.0"/>
<circle cx="166.96" cy="843.26" r="2.7" fill="#fff" stroke="#f39330" stroke-width="1.0"/>
<circle cx="168.32" cy="842.59" r="2.7" fill="#fff" stroke="#f39330" stroke-width="1.0"/>
<circle cx="169.68" cy="841.85" r="2.7" fill="#fff" stroke="#f39330" stroke-width="1.0"/>
<circle cx="171.04" cy="841.70" r="2.7" fill="#fff" stroke="#f39330" stroke-width="1.0"/>
<circle cx="172.40" cy="840.71" r="2.7" fill="#fff" stroke="#f39330" stroke-width="1.0"/>
<circle cx="173.76" cy="840.31" r="2.7" fill="#fff" stroke="#f39330" stroke-width="1.0"/>
<circle cx="175.12" cy="839.27" r="2.7" fill="#fff" stroke="#f39330" stroke-width="1.0"/>
<circle cx="176.48" cy="838.46" r="2.7" fill="#fff" stroke="#f39330" stroke-width="1.0"/>
<circle cx="177.84" cy="838.10" r="2.7" fill="#fff" stroke="#f39330" stroke-width="1.0"/>
<circle cx="179.20" cy="837.69" r="2.7" fill="#fff" stroke="#f39330" stroke-width="1.0"/>
<circle cx="180.56" cy="836.44" r="2.7" fill="#fff" stroke="#f39330" stroke-width="1.0"/>
<circle cx="181.92" cy="836.34" r="2.7" fill="#fff" stroke="#f39330" stroke-width="1.0"/>
<circle cx="183.28" cy="835.80" r="2.7" fill="#fff" stroke="#f39330" stroke-width="1.0"/>
<circle cx="184.63" cy="835.03" r="2.7" fill="#fff" stroke="#f39330" stroke-width="1.0"/>
<circle cx="185.99" cy="834.39" r="2.7" fill="#fff" stroke="#f39330" stroke-width="1.0"/>
<circle cx="187.35" cy="832.95" r="2.7" fill="#fff" stroke="#f39330" stroke-width="1.0"/>
<circle cx="188.71" cy="832.88" r="2.7" fill="#fff" stroke="#f39330" stroke-width="1.0"/>
<circle cx="190.07" cy="832.44" r="2.7" fill="#fff" stroke="#f39330" stroke-width="1.0"/>
<circle cx="191.43" cy="830.98" r="2.7" fill="#fff" stroke="#f39330" stroke-width="1.0"/>
<circle cx="192.79" cy="830.53" r="2.7" fill="#fff" stroke="#f39330" stroke-width="1.0"/>
<circle cx="194.15" cy="829.86" r="2.7" fill="#fff" stroke="#f39330" stroke-width="1.0"/>
<circle cx="195.51" cy="829.46" r="2.7" fill="#fff" stroke="#f39330" stroke-width="1.0"/>
<circle cx="196.87" cy="828.71" r="2.7" fill="#fff" stroke="#f39330" stroke-width="1.0"/>
<circle cx="198.23" cy="828.11" r="2.7" fill="#fff" stroke="#f39330" stroke-width="1.0"/>
<circle cx="199.59" cy="827.77" r="2.7" fill="#fff" stroke="#f39330" stroke-width="1.0"/>
<circle cx="200.95" cy="826.32" r="2.7" fill="#fff" stroke="#f39330" stroke-width="1.0"/>
<circle cx="202.31" cy="825.72" r="2.7" fill="#fff" stroke="#f39330" stroke-width="1.0"/>
<circle cx="203.66" cy="825.15" r="2.7" fill="#fff" stroke="#f39330" stroke-width="1.0"/>
<circle cx="205.02" cy="824.49" r="2.7" fill="#fff" stroke="#f39330" stroke-width="1.0"/>
<circle cx="206.38" cy="823.78" r="2.7" fill="#fff" stroke="#f39330" stroke-width="1.0"/>
<circle cx="207.74" cy="824.12" r="2.7" fill="#fff" stroke="#f39330" stroke-width="1.0"/>
<circle cx="209.10" cy="823.34" r="2.7" fill="#fff" stroke="#f39330" stroke-width="1.0"/>
<circle cx="210.46" cy="821.85" r="2.7" fill="#fff" stroke="#f39330" stroke-width="1.0"/>
<circle cx="211.82" cy="821.66" r="2.7" fill="#fff" stroke="#f39330" stroke-width="1.0"/>
<circle cx="213.18" cy="820.80" r="2.7" fill="#fff" stroke="#f39330" stroke-width="1.0"/>
<circle cx="214.54" cy="820.15" r="2.7" fill="#fff" stroke="#f39330" stroke-width="1.0"/>
<circle cx="215.90" cy="819.54" r="2.7" fill="#fff" stroke="#f39330" stroke-width="1.0"/>
<circle cx="217.26" cy="819.23" r="2.7" fill="#fff" stroke="#f39330" stroke-width="1.0"/>
<circle cx="218.62" cy="818.52" r="2.7" fill="#fff" stroke="#f39330" stroke-width="1.0"/>
<circle cx="219.98" cy="817.61" r="2.7" fill="#fff" stroke="#f39330" stroke-width="1.0"/>
<circle cx="221.34" cy="816.76" r="2.7" fill="#fff" stroke="#f39330" stroke-width="1.0"/>
<circle cx="222.69" cy="816.27" r="2.7" fill="#fff" stroke="#f39330" stroke-width="1.0"/>
<circle cx="224.05" cy="815.38" r="2.7" fill="#fff" stroke="#f39330" stroke-width="1.0"/>
<circle cx="225.41" cy="815.24" r="2.7" fill="#fff" stroke="#f39330" stroke-width="1.0"/>
<circle cx="226.77" cy="814.79" r="2.7" fill="#fff" stroke="#f39330" stroke-width="1.0"/>
<circle cx="228.13" cy="813.72" r="2.7" fill="#fff" stroke="#f39330" stroke-width="1.0"/>
<circle cx="229.49" cy="812.69" r="2.7" fill="#fff" stroke="#f39330" stroke-width="1.0"/>
<circle cx="230.85" cy="812.14" r="2.7" fill="#fff" stroke="#f39330" stroke-width="1.0"/>
<circle cx="232.21" cy="811.72" r="2.7" fill="#fff" stroke="#f39330" stroke-width="1.0"/>
<circle cx="233.57" cy="811.34" r="2.7" fill="#fff" stroke="#f39330" stroke-width="1.0"/>
<circle cx="234.93" cy="810.90" r="2.7" fill="#fff" stroke="#f39330" stroke-width="1.0"/>
<circle cx="236.29" cy="809.73" r="2.7" fill="#fff" stroke="#f39330" stroke-width="1.0"/>
<circle cx="237.65" cy="809.60" r="2.7" fill="#fff" stroke="#f39330" stroke-width="1.0"/>
<circle cx="239.01" cy="808.71" r="2.7" fill="#fff" stroke="#f39330" stroke-width="1.0"/>
<circle cx="240.37" cy="807.80" r="2.7" fill="#fff" stroke="#f39330" stroke-width="1.0"/>
<circle cx="241.72" cy="807.06" r="2.7" fill="#fff" stroke="#f39330" stroke-width="1.0"/>
<circle cx="243.08" cy="806.55" r="2.7" fill="#fff" stroke="#f39330" stroke-width="1.0"/>
<circle cx="244.44" cy="806.16" r="2.7" fill="#fff" stroke="#f39330" stroke-width="1.0"/>
<circle cx="245.80" cy="805.12" r="2.7" fill="#fff" stroke="#f39330" stroke-width="1.0"/>
<circle cx="247.16" cy="804.82" r="2.7" fill="#fff" stroke="#f39330" stroke-width="1.0"/>
<circle cx="248.52" cy="803.85" r="2.7" fill="#fff" stroke="#f39330" stroke-width="1.0"/>
<circle cx="249.88" cy="802.89" r="2.7" fill="#fff" stroke="#f39330" stroke-width="1.0"/>
<circle cx="251.24" cy="802.62" r="2.7" fill="#fff" stroke="#f39330" stroke-width="1.0"/>
<circle cx="252.60" cy="802.18" r="2.7" fill="#fff" stroke="#f39330" stroke-width="1.0"/>
<circle cx="253.96" cy="800.65" r="2.7" fill="#fff" stroke="#f39330" stroke-width="1.0"/>
<circle cx="255.32" cy="800.48" r="2.7" fill="#fff" stroke="#f39330" stroke-width="1.0"/>
<circle cx="256.68" cy="799.81" r="2.7" fill="#fff" stroke="#f39330" stroke-width="1.0"/>
<circle cx="258.04" cy="799.78" r="2.7" fill="#fff" stroke="#f39330" stroke-width="1.0"/>
<circle cx="259.40" cy="799.20" r="2.7" fill="#fff" stroke="#f39330" stroke-width="1.0"/>
<circle cx="260.75" cy="797.74" r="2.7" fill="#fff" stroke="#f39330" stroke-width="1.0"/>
<circle cx="262.11" cy="797.83" r="2.7" fill="#fff" stroke="#f39330" stroke-width="1.0"/>
<circle cx="263.47" cy="797.01" r="2.7" fill="#fff" stroke="#f39330" stroke-width="1.0"/>
<circle cx="264.83" cy="795.58" r="2.7" fill="#fff" stroke="#f39330" stroke-width="1.0"/>
<circle cx="266.19" cy="795.21" r="2.7" fill="#fff" stroke="#f39330" stroke-width="1.0"/>
<circle cx="267.55" cy="794.05" r="2.7" fill="#fff" stroke="#f39330" stroke-width="1.0"/>
<circle cx="268.91" cy="794.40" r="2.7" fill="#fff" stroke="#f39330" stroke-width="1.0"/>
<circle cx="270.27" cy="793.51" r="2.7" fill="#fff" stroke="#f39330" stroke-width="1.0"/>
<circle cx="271.63" cy="793.18" r="2.7" fill="#fff" stroke="#f39330" stroke-width="1.0"/>
<circle cx="272.99" cy="792.38" r="2.7" fill="#fff" stroke="#f39330" stroke-width="1.0"/>
<circle cx="274.35" cy="791.53" r="2.7" fill="#fff" stroke="#f39330" stroke-width="1.0"/>
<circle cx="275.71" cy="790.97" r="2.7" fill="#fff" stroke="#f39330" stroke-width="1.0"/>
<circle cx="277.07" cy="790.05" r="2.7" fill="#fff" stroke="#f39330" stroke-width="1.0"/>
<circle cx="278.43" cy="788.68" r="2.7" fill="#fff" stroke="#f39330" stroke-width="1.0"/>
<circle cx="279.78" cy="788.76" r="2.7" fill="#fff" stroke="#f39330" stroke-width="1.0"/>
<circle cx="281.14" cy="787.19" r="2.7" fill="#fff" stroke="#f39330" stroke-width="1.0"/>
<circle cx="282.50" cy="786.74" r="2.7" fill="#fff" stroke="#f39330" stroke-width="1.0"/>
<circle cx="283.86" cy="787.06" r="2.7" fill="#fff" stroke="#f39330" stroke-width="1.0"/>
<circle cx="285.22" cy="785.25" r="2.7" fill="#fff" stroke="#f39330" stroke-width="1.0"/>
<circle cx="286.58" cy="784.65" r="2.7" fill="#fff" stroke="#f39330" stroke-width="1.0"/>
<circle cx="287.94" cy="784.00" r="2.7" fill="#fff" stroke="#f39330" stroke-width="1.0"/>
<circle cx="289.30" cy="784.61" r="2.7" fill="#fff" stroke="#f39330" stroke-width="1.0"/>
<line x1="99.00" y1="872.40" x2="289.65" y2="775.76" stroke="#ee0000" stroke-width="3.4" stroke-dasharray="8.8 7.6" stroke-dashoffset="6.8"/>
<circle cx="100.27" cy="871.20" r="2.8" fill="#fff" stroke="#ee1c25" stroke-width="1.05"/>
<circle cx="101.54" cy="870.10" r="2.8" fill="#fff" stroke="#ee1c25" stroke-width="1.05"/>
<circle cx="102.81" cy="869.55" r="2.8" fill="#fff" stroke="#ee1c25" stroke-width="1.05"/>
<circle cx="104.07" cy="868.11" r="2.8" fill="#fff" stroke="#ee1c25" stroke-width="1.05"/>
<circle cx="105.34" cy="867.53" r="2.8" fill="#fff" stroke="#ee1c25" stroke-width="1.05"/>
<circle cx="106.61" cy="866.41" r="2.8" fill="#fff" stroke="#ee1c25" stroke-width="1.05"/>
<circle cx="107.88" cy="865.50" r="2.8" fill="#fff" stroke="#ee1c25" stroke-width="1.05"/>
<circle cx="109.15" cy="864.57" r="2.8" fill="#fff" stroke="#ee1c25" stroke-width="1.05"/>
<circle cx="110.42" cy="863.61" r="2.8" fill="#fff" stroke="#ee1c25" stroke-width="1.05"/>
<circle cx="111.69" cy="863.05" r="2.8" fill="#fff" stroke="#ee1c25" stroke-width="1.05"/>
<circle cx="112.96" cy="861.84" r="2.8" fill="#fff" stroke="#ee1c25" stroke-width="1.05"/>
<circle cx="114.22" cy="861.63" r="2.8" fill="#fff" stroke="#ee1c25" stroke-width="1.05"/>
<circle cx="115.49" cy="860.75" r="2.8" fill="#fff" stroke="#ee1c25" stroke-width="1.05"/>
<circle cx="116.76" cy="860.19" r="2.8" fill="#fff" stroke="#ee1c25" stroke-width="1.05"/>
<circle cx="118.03" cy="859.05" r="2.8" fill="#fff" stroke="#ee1c25" stroke-width="1.05"/>
<circle cx="119.30" cy="858.80" r="2.8" fill="#fff" stroke="#ee1c25" stroke-width="1.05"/>
<circle cx="120.57" cy="858.24" r="2.8" fill="#fff" stroke="#ee1c25" stroke-width="1.05"/>
<circle cx="121.84" cy="856.85" r="2.8" fill="#fff" stroke="#ee1c25" stroke-width="1.05"/>
<circle cx="123.10" cy="856.24" r="2.8" fill="#fff" stroke="#ee1c25" stroke-width="1.05"/>
<circle cx="124.37" cy="855.62" r="2.8" fill="#fff" stroke="#ee1c25" stroke-width="1.05"/>
<circle cx="125.64" cy="855.02" r="2.8" fill="#fff" stroke="#ee1c25" stroke-width="1.05"/>
<circle cx="126.91" cy="853.75" r="2.8" fill="#fff" stroke="#ee1c25" stroke-width="1.05"/>
<circle cx="128.18" cy="852.89" r="2.8" fill="#fff" stroke="#ee1c25" stroke-width="1.05"/>
<circle cx="129.45" cy="852.14" r="2.8" fill="#fff" stroke="#ee1c25" stroke-width="1.05"/>
<circle cx="130.72" cy="851.72" r="2.8" fill="#fff" stroke="#ee1c25" stroke-width="1.05"/>
<circle cx="131.99" cy="851.18" r="2.8" fill="#fff" stroke="#ee1c25" stroke-width="1.05"/>
<circle cx="133.25" cy="850.23" r="2.8" fill="#fff" stroke="#ee1c25" stroke-width="1.05"/>
<circle cx="134.52" cy="849.55" r="2.8" fill="#fff" stroke="#ee1c25" stroke-width="1.05"/>
<circle cx="135.79" cy="848.92" r="2.8" fill="#fff" stroke="#ee1c25" stroke-width="1.05"/>
<circle cx="137.06" cy="848.22" r="2.8" fill="#fff" stroke="#ee1c25" stroke-width="1.05"/>
<circle cx="138.33" cy="847.62" r="2.8" fill="#fff" stroke="#ee1c25" stroke-width="1.05"/>
<circle cx="139.60" cy="846.66" r="2.8" fill="#fff" stroke="#ee1c25" stroke-width="1.05"/>
<circle cx="140.87" cy="846.39" r="2.8" fill="#fff" stroke="#ee1c25" stroke-width="1.05"/>
<circle cx="142.13" cy="846.17" r="2.8" fill="#fff" stroke="#ee1c25" stroke-width="1.05"/>
<circle cx="143.40" cy="844.99" r="2.8" fill="#fff" stroke="#ee1c25" stroke-width="1.05"/>
<circle cx="144.67" cy="844.65" r="2.8" fill="#fff" stroke="#ee1c25" stroke-width="1.05"/>
<circle cx="145.94" cy="843.44" r="2.8" fill="#fff" stroke="#ee1c25" stroke-width="1.05"/>
<circle cx="147.21" cy="843.29" r="2.8" fill="#fff" stroke="#ee1c25" stroke-width="1.05"/>
<circle cx="148.48" cy="842.71" r="2.8" fill="#fff" stroke="#ee1c25" stroke-width="1.05"/>
<circle cx="149.75" cy="842.10" r="2.8" fill="#fff" stroke="#ee1c25" stroke-width="1.05"/>
<circle cx="151.02" cy="841.51" r="2.8" fill="#fff" stroke="#ee1c25" stroke-width="1.05"/>
<circle cx="152.28" cy="841.03" r="2.8" fill="#fff" stroke="#ee1c25" stroke-width="1.05"/>
<circle cx="153.55" cy="840.75" r="2.8" fill="#fff" stroke="#ee1c25" stroke-width="1.05"/>
<circle cx="154.82" cy="840.57" r="2.8" fill="#fff" stroke="#ee1c25" stroke-width="1.05"/>
<circle cx="156.09" cy="839.35" r="2.8" fill="#fff" stroke="#ee1c25" stroke-width="1.05"/>
<circle cx="157.36" cy="838.85" r="2.8" fill="#fff" stroke="#ee1c25" stroke-width="1.05"/>
<circle cx="158.63" cy="839.09" r="2.8" fill="#fff" stroke="#ee1c25" stroke-width="1.05"/>
<circle cx="159.90" cy="838.83" r="2.8" fill="#fff" stroke="#ee1c25" stroke-width="1.05"/>
<circle cx="161.16" cy="837.96" r="2.8" fill="#fff" stroke="#ee1c25" stroke-width="1.05"/>
<circle cx="162.43" cy="837.21" r="2.8" fill="#fff" stroke="#ee1c25" stroke-width="1.05"/>
<circle cx="163.70" cy="836.61" r="2.8" fill="#fff" stroke="#ee1c25" stroke-width="1.05"/>
<circle cx="164.97" cy="835.12" r="2.8" fill="#fff" stroke="#ee1c25" stroke-width="1.05"/>
<circle cx="166.24" cy="834.31" r="2.8" fill="#fff" stroke="#ee1c25" stroke-width="1.05"/>
<circle cx="167.51" cy="833.32" r="2.8" fill="#fff" stroke="#ee1c25" stroke-width="1.05"/>
<circle cx="168.78" cy="832.66" r="2.8" fill="#fff" stroke="#ee1c25" stroke-width="1.05"/>
<circle cx="170.05" cy="831.04" r="2.8" fill="#fff" stroke="#ee1c25" stroke-width="1.05"/>
<circle cx="171.31" cy="829.63" r="2.8" fill="#fff" stroke="#ee1c25" stroke-width="1.05"/>
<circle cx="172.58" cy="828.87" r="2.8" fill="#fff" stroke="#ee1c25" stroke-width="1.05"/>
<circle cx="173.85" cy="827.88" r="2.8" fill="#fff" stroke="#ee1c25" stroke-width="1.05"/>
<circle cx="175.12" cy="825.78" r="2.8" fill="#fff" stroke="#ee1c25" stroke-width="1.05"/>
<circle cx="176.39" cy="824.97" r="2.8" fill="#fff" stroke="#ee1c25" stroke-width="1.05"/>
<circle cx="177.66" cy="823.31" r="2.8" fill="#fff" stroke="#ee1c25" stroke-width="1.05"/>
<circle cx="178.93" cy="822.55" r="2.8" fill="#fff" stroke="#ee1c25" stroke-width="1.05"/>
<circle cx="180.19" cy="820.94" r="2.8" fill="#fff" stroke="#ee1c25" stroke-width="1.05"/>
<circle cx="181.46" cy="819.37" r="2.8" fill="#fff" stroke="#ee1c25" stroke-width="1.05"/>
<circle cx="182.73" cy="818.14" r="2.8" fill="#fff" stroke="#ee1c25" stroke-width="1.05"/>
<circle cx="184.00" cy="816.72" r="2.8" fill="#fff" stroke="#ee1c25" stroke-width="1.05"/>
<circle cx="185.27" cy="816.14" r="2.8" fill="#fff" stroke="#ee1c25" stroke-width="1.05"/>
<circle cx="186.54" cy="814.85" r="2.8" fill="#fff" stroke="#ee1c25" stroke-width="1.05"/>
<circle cx="187.81" cy="813.41" r="2.8" fill="#fff" stroke="#ee1c25" stroke-width="1.05"/>
<circle cx="189.08" cy="812.49" r="2.8" fill="#fff" stroke="#ee1c25" stroke-width="1.05"/>
<circle cx="190.34" cy="811.32" r="2.8" fill="#fff" stroke="#ee1c25" stroke-width="1.05"/>
<circle cx="191.61" cy="810.91" r="2.8" fill="#fff" stroke="#ee1c25" stroke-width="1.05"/>
<circle cx="192.88" cy="809.04" r="2.8" fill="#fff" stroke="#ee1c25" stroke-width="1.05"/>
<circle cx="194.15" cy="809.19" r="2.8" fill="#fff" stroke="#ee1c25" stroke-width="1.05"/>
<circle cx="195.42" cy="807.48" r="2.8" fill="#fff" stroke="#ee1c25" stroke-width="1.05"/>
<circle cx="196.69" cy="806.68" r="2.8" fill="#fff" stroke="#ee1c25" stroke-width="1.05"/>
<circle cx="197.96" cy="805.52" r="2.8" fill="#fff" stroke="#ee1c25" stroke-width="1.05"/>
<circle cx="199.22" cy="805.07" r="2.8" fill="#fff" stroke="#ee1c25" stroke-width="1.05"/>
<circle cx="200.49" cy="804.03" r="2.8" fill="#fff" stroke="#ee1c25" stroke-width="1.05"/>
<circle cx="201.76" cy="802.55" r="2.8" fill="#fff" stroke="#ee1c25" stroke-width="1.05"/>
<circle cx="203.03" cy="801.34" r="2.8" fill="#fff" stroke="#ee1c25" stroke-width="1.05"/>
<circle cx="204.30" cy="800.59" r="2.8" fill="#fff" stroke="#ee1c25" stroke-width="1.05"/>
<circle cx="205.57" cy="799.68" r="2.8" fill="#fff" stroke="#ee1c25" stroke-width="1.05"/>
<circle cx="206.84" cy="797.86" r="2.8" fill="#fff" stroke="#ee1c25" stroke-width="1.05"/>
<circle cx="208.11" cy="797.21" r="2.8" fill="#fff" stroke="#ee1c25" stroke-width="1.05"/>
<circle cx="209.37" cy="796.41" r="2.8" fill="#fff" stroke="#ee1c25" stroke-width="1.05"/>
<circle cx="210.64" cy="794.19" r="2.8" fill="#fff" stroke="#ee1c25" stroke-width="1.05"/>
<circle cx="211.91" cy="792.10" r="2.8" fill="#fff" stroke="#ee1c25" stroke-width="1.05"/>
<circle cx="213.18" cy="790.38" r="2.8" fill="#fff" stroke="#ee1c25" stroke-width="1.05"/>
<circle cx="214.45" cy="789.40" r="2.8" fill="#fff" stroke="#ee1c25" stroke-width="1.05"/>
<circle cx="215.72" cy="787.51" r="2.8" fill="#fff" stroke="#ee1c25" stroke-width="1.05"/>
<circle cx="216.99" cy="786.04" r="2.8" fill="#fff" stroke="#ee1c25" stroke-width="1.05"/>
<circle cx="218.25" cy="783.97" r="2.8" fill="#fff" stroke="#ee1c25" stroke-width="1.05"/>
<circle cx="219.52" cy="781.08" r="2.8" fill="#fff" stroke="#ee1c25" stroke-width="1.05"/>
<circle cx="220.79" cy="779.26" r="2.8" fill="#fff" stroke="#ee1c25" stroke-width="1.05"/>
<circle cx="222.06" cy="777.78" r="2.8" fill="#fff" stroke="#ee1c25" stroke-width="1.05"/>
<circle cx="223.33" cy="776.07" r="2.8" fill="#fff" stroke="#ee1c25" stroke-width="1.05"/>
<circle cx="224.60" cy="775.33" r="2.8" fill="#fff" stroke="#ee1c25" stroke-width="1.05"/>
<circle cx="225.87" cy="774.66" r="2.8" fill="#fff" stroke="#ee1c25" stroke-width="1.05"/>
<circle cx="227.14" cy="774.11" r="2.8" fill="#fff" stroke="#ee1c25" stroke-width="1.05"/>
<circle cx="228.40" cy="772.42" r="2.8" fill="#fff" stroke="#ee1c25" stroke-width="1.05"/>
<circle cx="229.67" cy="772.83" r="2.8" fill="#fff" stroke="#ee1c25" stroke-width="1.05"/>
<circle cx="230.94" cy="771.29" r="2.8" fill="#fff" stroke="#ee1c25" stroke-width="1.05"/>
<circle cx="232.21" cy="770.88" r="2.8" fill="#fff" stroke="#ee1c25" stroke-width="1.05"/>
<circle cx="233.48" cy="770.85" r="2.8" fill="#fff" stroke="#ee1c25" stroke-width="1.05"/>
<circle cx="234.75" cy="769.18" r="2.8" fill="#fff" stroke="#ee1c25" stroke-width="1.05"/>
<circle cx="236.02" cy="768.64" r="2.8" fill="#fff" stroke="#ee1c25" stroke-width="1.05"/>
<circle cx="237.28" cy="769.37" r="2.8" fill="#fff" stroke="#ee1c25" stroke-width="1.05"/>
<circle cx="238.55" cy="767.91" r="2.8" fill="#fff" stroke="#ee1c25" stroke-width="1.05"/>
<circle cx="239.82" cy="767.63" r="2.8" fill="#fff" stroke="#ee1c25" stroke-width="1.05"/>
<circle cx="241.09" cy="767.65" r="2.8" fill="#fff" stroke="#ee1c25" stroke-width="1.05"/>
<circle cx="242.36" cy="767.43" r="2.8" fill="#fff" stroke="#ee1c25" stroke-width="1.05"/>
<circle cx="243.63" cy="765.84" r="2.8" fill="#fff" stroke="#ee1c25" stroke-width="1.05"/>
<circle cx="244.90" cy="766.05" r="2.8" fill="#fff" stroke="#ee1c25" stroke-width="1.05"/>
<circle cx="246.17" cy="764.78" r="2.8" fill="#fff" stroke="#ee1c25" stroke-width="1.05"/>
<circle cx="247.43" cy="763.33" r="2.8" fill="#fff" stroke="#ee1c25" stroke-width="1.05"/>
<circle cx="248.70" cy="761.28" r="2.8" fill="#fff" stroke="#ee1c25" stroke-width="1.05"/>
<circle cx="249.97" cy="760.43" r="2.8" fill="#fff" stroke="#ee1c25" stroke-width="1.05"/>
<circle cx="251.24" cy="759.57" r="2.8" fill="#fff" stroke="#ee1c25" stroke-width="1.05"/>
<circle cx="252.51" cy="756.96" r="2.8" fill="#fff" stroke="#ee1c25" stroke-width="1.05"/>
<circle cx="253.78" cy="755.69" r="2.8" fill="#fff" stroke="#ee1c25" stroke-width="1.05"/>
<circle cx="255.05" cy="753.33" r="2.8" fill="#fff" stroke="#ee1c25" stroke-width="1.05"/>
<circle cx="256.31" cy="752.07" r="2.8" fill="#fff" stroke="#ee1c25" stroke-width="1.05"/>
<circle cx="257.58" cy="751.36" r="2.8" fill="#fff" stroke="#ee1c25" stroke-width="1.05"/>
<circle cx="258.85" cy="748.96" r="2.8" fill="#fff" stroke="#ee1c25" stroke-width="1.05"/>
<circle cx="260.12" cy="749.12" r="2.8" fill="#fff" stroke="#ee1c25" stroke-width="1.05"/>
<circle cx="261.39" cy="747.83" r="2.8" fill="#fff" stroke="#ee1c25" stroke-width="1.05"/>
<circle cx="262.66" cy="744.90" r="2.8" fill="#fff" stroke="#ee1c25" stroke-width="1.05"/>
<circle cx="263.93" cy="745.23" r="2.8" fill="#fff" stroke="#ee1c25" stroke-width="1.05"/>
<circle cx="265.20" cy="742.90" r="2.8" fill="#fff" stroke="#ee1c25" stroke-width="1.05"/>
<circle cx="266.46" cy="742.74" r="2.8" fill="#fff" stroke="#ee1c25" stroke-width="1.05"/>
<circle cx="267.73" cy="741.75" r="2.8" fill="#fff" stroke="#ee1c25" stroke-width="1.05"/>
<circle cx="269.00" cy="739.86" r="2.8" fill="#fff" stroke="#ee1c25" stroke-width="1.05"/>
<circle cx="270.27" cy="739.67" r="2.8" fill="#fff" stroke="#ee1c25" stroke-width="1.05"/>
<circle cx="271.54" cy="738.66" r="2.8" fill="#fff" stroke="#ee1c25" stroke-width="1.05"/>
<circle cx="272.81" cy="738.04" r="2.8" fill="#fff" stroke="#ee1c25" stroke-width="1.05"/>
<circle cx="274.08" cy="736.04" r="2.8" fill="#fff" stroke="#ee1c25" stroke-width="1.05"/>
<circle cx="275.34" cy="736.16" r="2.8" fill="#fff" stroke="#ee1c25" stroke-width="1.05"/>
<circle cx="276.61" cy="735.71" r="2.8" fill="#fff" stroke="#ee1c25" stroke-width="1.05"/>
<circle cx="277.88" cy="734.21" r="2.8" fill="#fff" stroke="#ee1c25" stroke-width="1.05"/>
<circle cx="279.15" cy="733.04" r="2.8" fill="#fff" stroke="#ee1c25" stroke-width="1.05"/>
<circle cx="280.42" cy="730.83" r="2.8" fill="#fff" stroke="#ee1c25" stroke-width="1.05"/>
<circle cx="281.69" cy="729.26" r="2.8" fill="#fff" stroke="#ee1c25" stroke-width="1.05"/>
<circle cx="282.96" cy="726.58" r="2.8" fill="#fff" stroke="#ee1c25" stroke-width="1.05"/>
<circle cx="284.23" cy="725.09" r="2.8" fill="#fff" stroke="#ee1c25" stroke-width="1.05"/>
<circle cx="285.49" cy="722.77" r="2.8" fill="#fff" stroke="#ee1c25" stroke-width="1.05"/>
<circle cx="286.76" cy="720.30" r="2.8" fill="#fff" stroke="#ee1c25" stroke-width="1.05"/>
<circle cx="288.03" cy="717.22" r="2.8" fill="#fff" stroke="#ee1c25" stroke-width="1.05"/>
<circle cx="289.30" cy="716.12" r="2.8" fill="#fff" stroke="#ee1c25" stroke-width="1.05"/>
<circle cx="101.24" cy="871.97" r="2.5" fill="#fff" stroke="#000" stroke-width="1.25"/>
<circle cx="102.36" cy="871.40" r="2.5" fill="#fff" stroke="#000" stroke-width="1.25"/>
<circle cx="103.48" cy="871.63" r="2.5" fill="#fff" stroke="#000" stroke-width="1.25"/>
<circle cx="104.60" cy="871.20" r="2.5" fill="#fff" stroke="#000" stroke-width="1.25"/>
<circle cx="105.72" cy="870.56" r="2.5" fill="#fff" stroke="#000" stroke-width="1.25"/>
<circle cx="106.84" cy="870.89" r="2.5" fill="#fff" stroke="#000" stroke-width="1.25"/>
<circle cx="107.96" cy="870.04" r="2.5" fill="#fff" stroke="#000" stroke-width="1.25"/>
<circle cx="109.07" cy="869.92" r="2.5" fill="#fff" stroke="#000" stroke-width="1.25"/>
<circle cx="110.19" cy="869.94" r="2.5" fill="#fff" stroke="#000" stroke-width="1.25"/>
<circle cx="111.31" cy="869.58" r="2.5" fill="#fff" stroke="#000" stroke-width="1.25"/>
<circle cx="112.43" cy="869.27" r="2.5" fill="#fff" stroke="#000" stroke-width="1.25"/>
<circle cx="113.55" cy="869.07" r="2.5" fill="#fff" stroke="#000" stroke-width="1.25"/>
<circle cx="114.67" cy="868.64" r="2.5" fill="#fff" stroke="#000" stroke-width="1.25"/>
<circle cx="115.79" cy="868.25" r="2.5" fill="#fff" stroke="#000" stroke-width="1.25"/>
<circle cx="116.91" cy="867.86" r="2.5" fill="#fff" stroke="#000" stroke-width="1.25"/>
<circle cx="118.03" cy="867.49" r="2.5" fill="#fff" stroke="#000" stroke-width="1.25"/>
<circle cx="119.15" cy="867.76" r="2.5" fill="#fff" stroke="#000" stroke-width="1.25"/>
<circle cx="120.27" cy="867.53" r="2.5" fill="#fff" stroke="#000" stroke-width="1.25"/>
<circle cx="121.39" cy="867.07" r="2.5" fill="#fff" stroke="#000" stroke-width="1.25"/>
<circle cx="122.51" cy="866.97" r="2.5" fill="#fff" stroke="#000" stroke-width="1.25"/>
<circle cx="123.63" cy="866.35" r="2.5" fill="#fff" stroke="#000" stroke-width="1.25"/>
<circle cx="124.75" cy="865.99" r="2.5" fill="#fff" stroke="#000" stroke-width="1.25"/>
<circle cx="125.87" cy="865.82" r="2.5" fill="#fff" stroke="#000" stroke-width="1.25"/>
<circle cx="126.99" cy="866.01" r="2.5" fill="#fff" stroke="#000" stroke-width="1.25"/>
<circle cx="128.10" cy="864.95" r="2.5" fill="#fff" stroke="#000" stroke-width="1.25"/>
<circle cx="129.22" cy="865.11" r="2.5" fill="#fff" stroke="#000" stroke-width="1.25"/>
<circle cx="130.34" cy="864.63" r="2.5" fill="#fff" stroke="#000" stroke-width="1.25"/>
<circle cx="131.46" cy="864.98" r="2.5" fill="#fff" stroke="#000" stroke-width="1.25"/>
<circle cx="132.58" cy="864.42" r="2.5" fill="#fff" stroke="#000" stroke-width="1.25"/>
<circle cx="133.70" cy="864.25" r="2.5" fill="#fff" stroke="#000" stroke-width="1.25"/>
<circle cx="134.82" cy="864.16" r="2.5" fill="#fff" stroke="#000" stroke-width="1.25"/>
<circle cx="135.94" cy="864.15" r="2.5" fill="#fff" stroke="#000" stroke-width="1.25"/>
<circle cx="137.06" cy="864.24" r="2.5" fill="#fff" stroke="#000" stroke-width="1.25"/>
<circle cx="138.18" cy="863.65" r="2.5" fill="#fff" stroke="#000" stroke-width="1.25"/>
<circle cx="139.30" cy="864.02" r="2.5" fill="#fff" stroke="#000" stroke-width="1.25"/>
<circle cx="140.42" cy="863.08" r="2.5" fill="#fff" stroke="#000" stroke-width="1.25"/>
<circle cx="141.54" cy="863.10" r="2.5" fill="#fff" stroke="#000" stroke-width="1.25"/>
<circle cx="142.66" cy="862.75" r="2.5" fill="#fff" stroke="#000" stroke-width="1.25"/>
<circle cx="143.78" cy="862.61" r="2.5" fill="#fff" stroke="#000" stroke-width="1.25"/>
<circle cx="144.90" cy="863.20" r="2.5" fill="#fff" stroke="#000" stroke-width="1.25"/>
<circle cx="146.02" cy="862.99" r="2.5" fill="#fff" stroke="#000" stroke-width="1.25"/>
<circle cx="147.13" cy="862.22" r="2.5" fill="#fff" stroke="#000" stroke-width="1.25"/>
<circle cx="148.25" cy="862.07" r="2.5" fill="#fff" stroke="#000" stroke-width="1.25"/>
<circle cx="149.37" cy="862.18" r="2.5" fill="#fff" stroke="#000" stroke-width="1.25"/>
<circle cx="150.49" cy="862.39" r="2.5" fill="#fff" stroke="#000" stroke-width="1.25"/>
<circle cx="151.61" cy="862.32" r="2.5" fill="#fff" stroke="#000" stroke-width="1.25"/>
<circle cx="152.73" cy="862.07" r="2.5" fill="#fff" stroke="#000" stroke-width="1.25"/>
<circle cx="153.85" cy="861.72" r="2.5" fill="#fff" stroke="#000" stroke-width="1.25"/>
<circle cx="154.97" cy="861.01" r="2.5" fill="#fff" stroke="#000" stroke-width="1.25"/>
<circle cx="156.09" cy="861.15" r="2.5" fill="#fff" stroke="#000" stroke-width="1.25"/>
<circle cx="157.21" cy="860.72" r="2.5" fill="#fff" stroke="#000" stroke-width="1.25"/>
<circle cx="158.33" cy="860.97" r="2.5" fill="#fff" stroke="#000" stroke-width="1.25"/>
<circle cx="159.45" cy="860.86" r="2.5" fill="#fff" stroke="#000" stroke-width="1.25"/>
<circle cx="160.57" cy="860.22" r="2.5" fill="#fff" stroke="#000" stroke-width="1.25"/>
<circle cx="161.69" cy="860.12" r="2.5" fill="#fff" stroke="#000" stroke-width="1.25"/>
<circle cx="162.81" cy="860.64" r="2.5" fill="#fff" stroke="#000" stroke-width="1.25"/>
<circle cx="163.93" cy="859.49" r="2.5" fill="#fff" stroke="#000" stroke-width="1.25"/>
<circle cx="165.05" cy="860.34" r="2.5" fill="#fff" stroke="#000" stroke-width="1.25"/>
<circle cx="166.16" cy="860.30" r="2.5" fill="#fff" stroke="#000" stroke-width="1.25"/>
<circle cx="167.28" cy="860.21" r="2.5" fill="#fff" stroke="#000" stroke-width="1.25"/>
<circle cx="168.40" cy="859.26" r="2.5" fill="#fff" stroke="#000" stroke-width="1.25"/>
<circle cx="169.52" cy="859.27" r="2.5" fill="#fff" stroke="#000" stroke-width="1.25"/>
<circle cx="170.64" cy="859.09" r="2.5" fill="#fff" stroke="#000" stroke-width="1.25"/>
<circle cx="171.76" cy="858.94" r="2.5" fill="#fff" stroke="#000" stroke-width="1.25"/>
<circle cx="172.88" cy="859.20" r="2.5" fill="#fff" stroke="#000" stroke-width="1.25"/>
<circle cx="174.00" cy="858.57" r="2.5" fill="#fff" stroke="#000" stroke-width="1.25"/>
<circle cx="175.12" cy="857.79" r="2.5" fill="#fff" stroke="#000" stroke-width="1.25"/>
<circle cx="176.24" cy="858.37" r="2.5" fill="#fff" stroke="#000" stroke-width="1.25"/>
<circle cx="177.36" cy="857.60" r="2.5" fill="#fff" stroke="#000" stroke-width="1.25"/>
<circle cx="178.48" cy="857.55" r="2.5" fill="#fff" stroke="#000" stroke-width="1.25"/>
<circle cx="179.60" cy="857.51" r="2.5" fill="#fff" stroke="#000" stroke-width="1.25"/>
<circle cx="180.72" cy="856.21" r="2.5" fill="#fff" stroke="#000" stroke-width="1.25"/>
<circle cx="181.84" cy="857.13" r="2.5" fill="#fff" stroke="#000" stroke-width="1.25"/>
<circle cx="182.96" cy="856.75" r="2.5" fill="#fff" stroke="#000" stroke-width="1.25"/>
<circle cx="184.08" cy="856.27" r="2.5" fill="#fff" stroke="#000" stroke-width="1.25"/>
<circle cx="185.19" cy="856.09" r="2.5" fill="#fff" stroke="#000" stroke-width="1.25"/>
<circle cx="186.31" cy="855.77" r="2.5" fill="#fff" stroke="#000" stroke-width="1.25"/>
<circle cx="187.43" cy="855.13" r="2.5" fill="#fff" stroke="#000" stroke-width="1.25"/>
<circle cx="188.55" cy="855.43" r="2.5" fill="#fff" stroke="#000" stroke-width="1.25"/>
<circle cx="189.67" cy="854.43" r="2.5" fill="#fff" stroke="#000" stroke-width="1.25"/>
<circle cx="190.79" cy="854.93" r="2.5" fill="#fff" stroke="#000" stroke-width="1.25"/>
<circle cx="191.91" cy="854.94" r="2.5" fill="#fff" stroke="#000" stroke-width="1.25"/>
<circle cx="193.03" cy="854.39" r="2.5" fill="#fff" stroke="#000" stroke-width="1.25"/>
<circle cx="194.15" cy="854.37" r="2.5" fill="#fff" stroke="#000" stroke-width="1.25"/>
<circle cx="195.27" cy="854.79" r="2.5" fill="#fff" stroke="#000" stroke-width="1.25"/>
<circle cx="196.39" cy="854.49" r="2.5" fill="#fff" stroke="#000" stroke-width="1.25"/>
<circle cx="197.51" cy="853.05" r="2.5" fill="#fff" stroke="#000" stroke-width="1.25"/>
<circle cx="198.63" cy="853.95" r="2.5" fill="#fff" stroke="#000" stroke-width="1.25"/>
<circle cx="199.75" cy="853.48" r="2.5" fill="#fff" stroke="#000" stroke-width="1.25"/>
<circle cx="200.87" cy="852.32" r="2.5" fill="#fff" stroke="#000" stroke-width="1.25"/>
<circle cx="201.99" cy="852.65" r="2.5" fill="#fff" stroke="#000" stroke-width="1.25"/>
<circle cx="203.11" cy="852.24" r="2.5" fill="#fff" stroke="#000" stroke-width="1.25"/>
<circle cx="204.22" cy="851.77" r="2.5" fill="#fff" stroke="#000" stroke-width="1.25"/>
<circle cx="205.34" cy="852.38" r="2.5" fill="#fff" stroke="#000" stroke-width="1.25"/>
<circle cx="206.46" cy="852.87" r="2.5" fill="#fff" stroke="#000" stroke-width="1.25"/>
<circle cx="207.58" cy="851.62" r="2.5" fill="#fff" stroke="#000" stroke-width="1.25"/>
<circle cx="208.70" cy="852.40" r="2.5" fill="#fff" stroke="#000" stroke-width="1.25"/>
<circle cx="209.82" cy="851.89" r="2.5" fill="#fff" stroke="#000" stroke-width="1.25"/>
<circle cx="210.94" cy="850.70" r="2.5" fill="#fff" stroke="#000" stroke-width="1.25"/>
<circle cx="212.06" cy="851.81" r="2.5" fill="#fff" stroke="#000" stroke-width="1.25"/>
<circle cx="213.18" cy="851.16" r="2.5" fill="#fff" stroke="#000" stroke-width="1.25"/>
<circle cx="214.30" cy="851.56" r="2.5" fill="#fff" stroke="#000" stroke-width="1.25"/>
<circle cx="215.42" cy="850.99" r="2.5" fill="#fff" stroke="#000" stroke-width="1.25"/>
<circle cx="216.54" cy="850.84" r="2.5" fill="#fff" stroke="#000" stroke-width="1.25"/>
<circle cx="217.66" cy="849.91" r="2.5" fill="#fff" stroke="#000" stroke-width="1.25"/>
<circle cx="218.78" cy="850.59" r="2.5" fill="#fff" stroke="#000" stroke-width="1.25"/>
<circle cx="219.90" cy="850.64" r="2.5" fill="#fff" stroke="#000" stroke-width="1.25"/>
<circle cx="221.02" cy="850.32" r="2.5" fill="#fff" stroke="#000" stroke-width="1.25"/>
<circle cx="222.14" cy="849.32" r="2.5" fill="#fff" stroke="#000" stroke-width="1.25"/>
<circle cx="223.25" cy="849.74" r="2.5" fill="#fff" stroke="#000" stroke-width="1.25"/>
<circle cx="224.37" cy="849.03" r="2.5" fill="#fff" stroke="#000" stroke-width="1.25"/>
<circle cx="225.49" cy="848.11" r="2.5" fill="#fff" stroke="#000" stroke-width="1.25"/>
<circle cx="226.61" cy="847.78" r="2.5" fill="#fff" stroke="#000" stroke-width="1.25"/>
<circle cx="227.73" cy="847.64" r="2.5" fill="#fff" stroke="#000" stroke-width="1.25"/>
<circle cx="228.85" cy="847.66" r="2.5" fill="#fff" stroke="#000" stroke-width="1.25"/>
<circle cx="229.97" cy="847.36" r="2.5" fill="#fff" stroke="#000" stroke-width="1.25"/>
<circle cx="231.09" cy="847.81" r="2.5" fill="#fff" stroke="#000" stroke-width="1.25"/>
<circle cx="232.21" cy="848.00" r="2.5" fill="#fff" stroke="#000" stroke-width="1.25"/>
<circle cx="233.33" cy="847.46" r="2.5" fill="#fff" stroke="#000" stroke-width="1.25"/>
<circle cx="234.45" cy="847.01" r="2.5" fill="#fff" stroke="#000" stroke-width="1.25"/>
<circle cx="235.57" cy="847.26" r="2.5" fill="#fff" stroke="#000" stroke-width="1.25"/>
<circle cx="236.69" cy="846.33" r="2.5" fill="#fff" stroke="#000" stroke-width="1.25"/>
<circle cx="237.81" cy="846.44" r="2.5" fill="#fff" stroke="#000" stroke-width="1.25"/>
<circle cx="238.93" cy="846.84" r="2.5" fill="#fff" stroke="#000" stroke-width="1.25"/>
<circle cx="240.05" cy="845.88" r="2.5" fill="#fff" stroke="#000" stroke-width="1.25"/>
<circle cx="241.17" cy="845.19" r="2.5" fill="#fff" stroke="#000" stroke-width="1.25"/>
<circle cx="242.28" cy="846.50" r="2.5" fill="#fff" stroke="#000" stroke-width="1.25"/>
<circle cx="243.40" cy="845.90" r="2.5" fill="#fff" stroke="#000" stroke-width="1.25"/>
<circle cx="244.52" cy="844.93" r="2.5" fill="#fff" stroke="#000" stroke-width="1.25"/>
<circle cx="245.64" cy="844.72" r="2.5" fill="#fff" stroke="#000" stroke-width="1.25"/>
<circle cx="246.76" cy="844.85" r="2.5" fill="#fff" stroke="#000" stroke-width="1.25"/>
<circle cx="247.88" cy="844.78" r="2.5" fill="#fff" stroke="#000" stroke-width="1.25"/>
<circle cx="249.00" cy="843.75" r="2.5" fill="#fff" stroke="#000" stroke-width="1.25"/>
<circle cx="250.12" cy="843.04" r="2.5" fill="#fff" stroke="#000" stroke-width="1.25"/>
<circle cx="251.24" cy="843.27" r="2.5" fill="#fff" stroke="#000" stroke-width="1.25"/>
<circle cx="252.36" cy="844.33" r="2.5" fill="#fff" stroke="#000" stroke-width="1.25"/>
<circle cx="253.48" cy="842.69" r="2.5" fill="#fff" stroke="#000" stroke-width="1.25"/>
<circle cx="254.60" cy="843.18" r="2.5" fill="#fff" stroke="#000" stroke-width="1.25"/>
<circle cx="255.72" cy="842.36" r="2.5" fill="#fff" stroke="#000" stroke-width="1.25"/>
<circle cx="256.84" cy="842.18" r="2.5" fill="#fff" stroke="#000" stroke-width="1.25"/>
<circle cx="257.96" cy="841.87" r="2.5" fill="#fff" stroke="#000" stroke-width="1.25"/>
<circle cx="259.08" cy="842.18" r="2.5" fill="#fff" stroke="#000" stroke-width="1.25"/>
<circle cx="260.20" cy="841.42" r="2.5" fill="#fff" stroke="#000" stroke-width="1.25"/>
<circle cx="261.31" cy="840.88" r="2.5" fill="#fff" stroke="#000" stroke-width="1.25"/>
<circle cx="262.43" cy="840.85" r="2.5" fill="#fff" stroke="#000" stroke-width="1.25"/>
<circle cx="263.55" cy="840.76" r="2.5" fill="#fff" stroke="#000" stroke-width="1.25"/>
<circle cx="264.67" cy="841.30" r="2.5" fill="#fff" stroke="#000" stroke-width="1.25"/>
<circle cx="265.79" cy="840.06" r="2.5" fill="#fff" stroke="#000" stroke-width="1.25"/>
<circle cx="266.91" cy="839.75" r="2.5" fill="#fff" stroke="#000" stroke-width="1.25"/>
<circle cx="268.03" cy="840.54" r="2.5" fill="#fff" stroke="#000" stroke-width="1.25"/>
<circle cx="269.15" cy="840.23" r="2.5" fill="#fff" stroke="#000" stroke-width="1.25"/>
<circle cx="270.27" cy="840.72" r="2.5" fill="#fff" stroke="#000" stroke-width="1.25"/>
<circle cx="271.39" cy="838.93" r="2.5" fill="#fff" stroke="#000" stroke-width="1.25"/>
<circle cx="272.51" cy="839.57" r="2.5" fill="#fff" stroke="#000" stroke-width="1.25"/>
<circle cx="273.63" cy="839.33" r="2.5" fill="#fff" stroke="#000" stroke-width="1.25"/>
<circle cx="274.75" cy="838.21" r="2.5" fill="#fff" stroke="#000" stroke-width="1.25"/>
<circle cx="275.87" cy="840.30" r="2.5" fill="#fff" stroke="#000" stroke-width="1.25"/>
<circle cx="276.99" cy="838.24" r="2.5" fill="#fff" stroke="#000" stroke-width="1.25"/>
<circle cx="278.11" cy="837.71" r="2.5" fill="#fff" stroke="#000" stroke-width="1.25"/>
<circle cx="279.23" cy="838.44" r="2.5" fill="#fff" stroke="#000" stroke-width="1.25"/>
<circle cx="280.34" cy="837.44" r="2.5" fill="#fff" stroke="#000" stroke-width="1.25"/>
<circle cx="281.46" cy="838.38" r="2.5" fill="#fff" stroke="#000" stroke-width="1.25"/>
<circle cx="282.58" cy="837.46" r="2.5" fill="#fff" stroke="#000" stroke-width="1.25"/>
<circle cx="283.70" cy="836.68" r="2.5" fill="#fff" stroke="#000" stroke-width="1.25"/>
<circle cx="284.82" cy="836.27" r="2.5" fill="#fff" stroke="#000" stroke-width="1.25"/>
<circle cx="285.94" cy="837.79" r="2.5" fill="#fff" stroke="#000" stroke-width="1.25"/>
<circle cx="287.06" cy="836.41" r="2.5" fill="#fff" stroke="#000" stroke-width="1.25"/>
<circle cx="288.18" cy="837.51" r="2.5" fill="#fff" stroke="#000" stroke-width="1.25"/>
<circle cx="289.30" cy="836.47" r="2.5" fill="#fff" stroke="#000" stroke-width="1.25"/>
<line x1="99.00" y1="668.50" x2="99.00" y2="883.60" stroke="#000" stroke-width="1.95" />
<line x1="99.00" y1="872.40" x2="303.20" y2="872.40" stroke="#000" stroke-width="1.95" />
</svg>
</body></html>
